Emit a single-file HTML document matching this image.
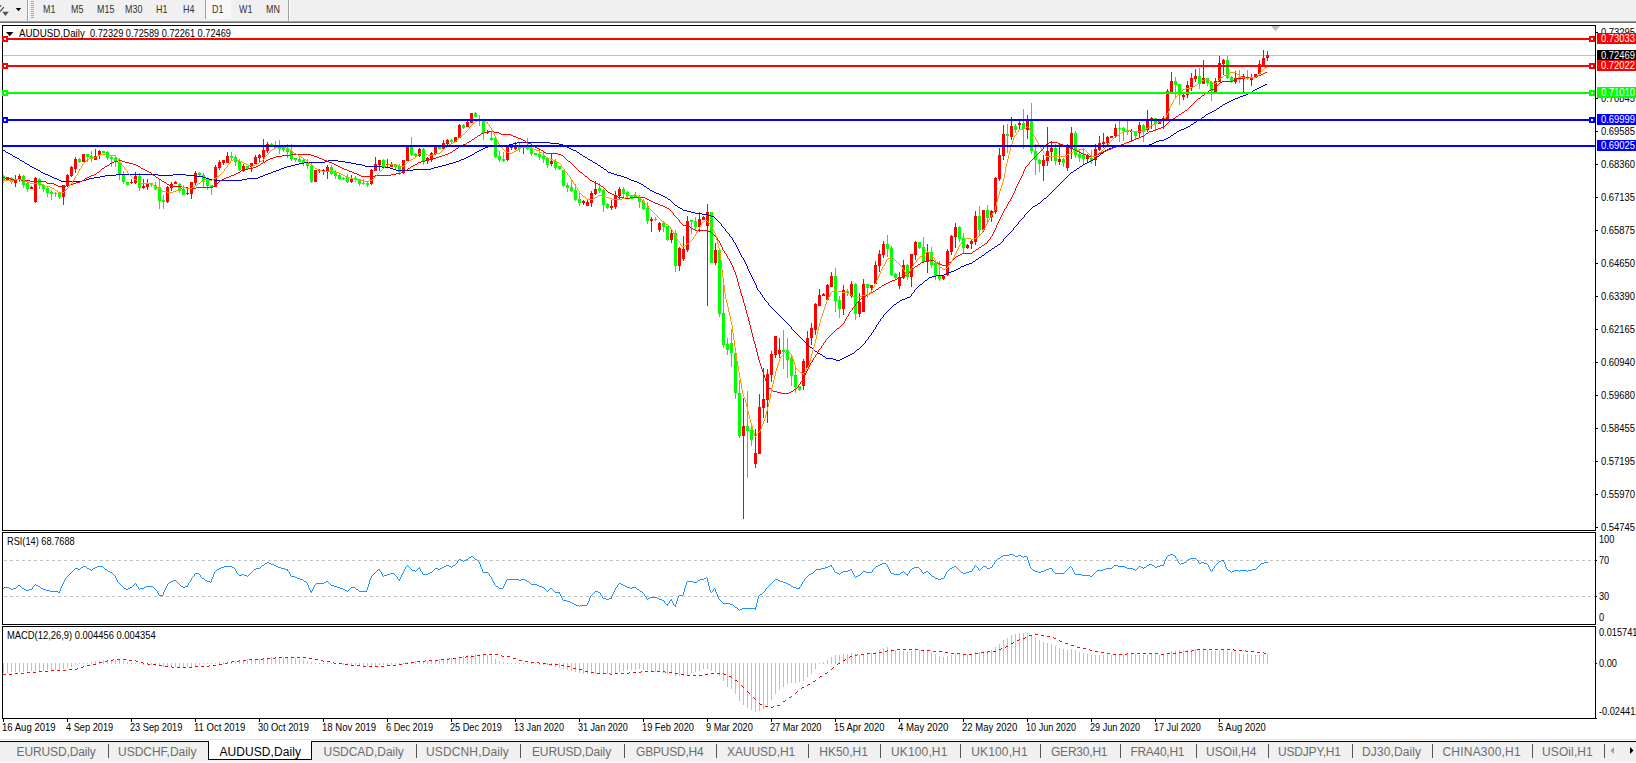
<!DOCTYPE html><html><head><meta charset="utf-8"><title>AUDUSD,Daily</title><style>
html,body{margin:0;padding:0;background:#fff;}
body{width:1636px;height:763px;overflow:hidden;position:relative;font-family:"Liberation Sans", sans-serif;}
.t{position:absolute;white-space:nowrap;line-height:1;color:#000;}
.ax{font-size:10.4px;line-height:11px;transform:scaleX(0.9074);transform-origin:0 0;}
.lbl{position:absolute;left:1597px;width:39px;height:11px;color:#fff;font-size:10.4px;white-space:nowrap;overflow:hidden;}
.lbl span{position:absolute;left:4px;top:.1px;line-height:11px;transform:scaleX(0.9074);transform-origin:0 0;}
.tab{position:absolute;top:745px;font-size:12px;line-height:14px;color:#6d6d6d;white-space:nowrap;letter-spacing:-0.1px;}
.sep{position:absolute;top:744px;width:1px;height:14px;background:#555;}
.tb{position:absolute;top:4.1px;font-size:10.4px;line-height:11px;color:#333;white-space:nowrap;transform:scaleX(0.8575);transform-origin:0 0;}
</style></head><body><div style="position:absolute;left:0;top:0;width:1636px;height:21px;background:#f0f0f0"></div><div style="position:absolute;left:0;top:21px;width:1636px;height:1px;background:#a0a0a0"></div><div style="position:absolute;left:0;top:22px;width:1636px;height:1px;background:#696969"></div><div style="position:absolute;left:27px;top:0;width:1px;height:21px;background:#a0a0a0"></div><div style="position:absolute;left:28px;top:0;width:1px;height:21px;background:#fff"></div><div style="position:absolute;left:205px;top:0;width:1px;height:19px;background:#a0a0a0"></div><div style="position:absolute;left:288px;top:0;width:1px;height:21px;background:#a0a0a0"></div><div style="position:absolute;left:289px;top:0;width:1px;height:21px;background:#fff"></div><div style="position:absolute;left:206px;top:0;width:25px;height:19px;background:#f8f8f8"></div><div style="position:absolute;left:31px;top:1px;width:3px;height:1px;background:#a8a8a8"></div><div style="position:absolute;left:31px;top:3px;width:3px;height:1px;background:#a8a8a8"></div><div style="position:absolute;left:31px;top:5px;width:3px;height:1px;background:#a8a8a8"></div><div style="position:absolute;left:31px;top:7px;width:3px;height:1px;background:#a8a8a8"></div><div style="position:absolute;left:31px;top:9px;width:3px;height:1px;background:#a8a8a8"></div><div style="position:absolute;left:31px;top:11px;width:3px;height:1px;background:#a8a8a8"></div><div style="position:absolute;left:31px;top:13px;width:3px;height:1px;background:#a8a8a8"></div><div style="position:absolute;left:31px;top:15px;width:3px;height:1px;background:#a8a8a8"></div><div style="position:absolute;left:31px;top:17px;width:3px;height:1px;background:#a8a8a8"></div><svg style="position:absolute;left:0;top:0" width="27" height="21" viewBox="0 0 27 21"><path d="M0 5l2 1-2 .7z" fill="#333"/><path d="M3.8 7.2L0 11.6" stroke="#444" stroke-width="1.2" fill="none"/><path d="M2.2 11.8h6.6L5.5 16z" fill="#555"/><path d="M15.8 8h5.4l-2.7 3.2z" fill="#000"/></svg><div class="tb" style="left:42.5px">M1</div><div class="tb" style="left:70.5px">M5</div><div class="tb" style="left:96.5px">M15</div><div class="tb" style="left:124.5px">M30</div><div class="tb" style="left:155.5px">H1</div><div class="tb" style="left:182.5px">H4</div><div class="tb" style="left:211.5px">D1</div><div class="tb" style="left:239px">W1</div><div class="tb" style="left:265.5px">MN</div><svg width="1636" height="763" viewBox="0 0 1636 763" style="position:absolute;left:0;top:0" shape-rendering="crispEdges"><line x1="4" y1="560.5" x2="1595" y2="560.5" stroke="#c0c0c0" stroke-width="1" stroke-dasharray="3,3"/><line x1="4" y1="596.5" x2="1595" y2="596.5" stroke="#c0c0c0" stroke-width="1" stroke-dasharray="3,3"/><rect x="3" y="55" width="1592" height="1" fill="#c0c0c0"/><path d="M7.5 177V180M15.5 175V187M19.5 174V182M31.5 186V189M35.5 177V203M63.5 185V205M67.5 174V187M71.5 166V177M75.5 157V173M83.5 154V162M95.5 149V160M99.5 150V159M131.5 179V184M135.5 172V184M143.5 179V189M147.5 179V190M167.5 186V203M171.5 182V191M175.5 181V184M187.5 187V195M191.5 182V199M195.5 171V186M215.5 165V187M219.5 160V170M223.5 160V165M227.5 152V163M243.5 164V172M251.5 163V172M255.5 155V165M259.5 154V162M263.5 139V162M267.5 142V153M315.5 170V182M319.5 169V173M323.5 169V175M327.5 165V179M351.5 175V183M371.5 169V185M375.5 157V171M379.5 160V171M387.5 159V168M391.5 162V167M403.5 160V174M407.5 147V161M419.5 148V157M427.5 157V164M431.5 152V162M435.5 147V155M443.5 140V150M447.5 139V145M455.5 137V142M459.5 124V138M467.5 121V127M471.5 113V123M487.5 130V134M507.5 147V161M511.5 146V150M515.5 142V150M523.5 145V154M551.5 154V166M583.5 200V205M587.5 200V206M591.5 191V207M595.5 181V195M611.5 200V210M615.5 191V209M619.5 187V199M651.5 217V232M659.5 222V232M671.5 230V243M679.5 247V271M683.5 236V261M687.5 216V252M699.5 212V232M703.5 216V220M707.5 204V306M715.5 243V265M743.5 398V519M755.5 429V468M759.5 394V454M763.5 368V418M767.5 369V423M771.5 351V382M775.5 336V358M779.5 338V358M803.5 359V390M807.5 331V368M811.5 323V345M815.5 303V335M819.5 289V306M823.5 293V296M827.5 284V300M831.5 272V287M843.5 285V315M851.5 281V298M859.5 293V317M863.5 279V312M871.5 285V290M875.5 261V284M879.5 250V272M883.5 241V258M899.5 272V289M903.5 260V279M911.5 254V287M915.5 241V260M927.5 244V273M943.5 276V280M947.5 249V276M951.5 235V255M955.5 223V248M967.5 244V249M971.5 240V249M975.5 211V245M983.5 210V232M991.5 210V222M995.5 177V214M999.5 148V181M1003.5 125V160M1011.5 117V140M1019.5 121V129M1027.5 115V139M1043.5 155V181M1047.5 127V166M1051.5 141V161M1059.5 144V165M1067.5 144V171M1071.5 127V159M1087.5 154V162M1095.5 144V166M1099.5 136V151M1103.5 133V148M1107.5 136V145M1111.5 136V138M1115.5 124V137M1131.5 129V142M1139.5 122V137M1147.5 110V132M1151.5 117V129M1159.5 120V124M1163.5 116V129M1167.5 89V119M1171.5 72V92M1183.5 94V100M1187.5 81V98M1191.5 73V91M1195.5 69V82M1203.5 60V84M1215.5 78V92M1219.5 56V82M1223.5 59V75M1235.5 71V84M1243.5 74V92M1251.5 74V86M1255.5 74V78M1259.5 60V74M1263.5 50V66M1267.5 51V61" stroke="#ff0000" stroke-width="1" fill="none"/><path d="M3.5 175V183M11.5 177V184M23.5 175V188M27.5 182V192M39.5 178V189M43.5 184V192M47.5 187V197M51.5 190V200M55.5 192V197M59.5 192V199M79.5 158V163M87.5 154V162M91.5 151V162M103.5 151V153M107.5 151V160M111.5 156V167M115.5 155V167M119.5 158V180M123.5 171V184M127.5 182V185M139.5 173V191M151.5 183V187M155.5 182V190M159.5 180V209M163.5 195V209M179.5 183V193M183.5 185V195M199.5 172V176M203.5 173V187M207.5 177V190M211.5 185V195M231.5 152V160M235.5 155V166M239.5 159V171M247.5 166V169M271.5 143V146M275.5 141V148M279.5 140V154M283.5 148V152M287.5 144V158M291.5 144V161M295.5 158V162M299.5 157V162M303.5 159V166M307.5 159V169M311.5 163V183M331.5 165V175M335.5 170V179M339.5 173V180M343.5 177V180M347.5 174V183M355.5 176V182M359.5 179V186M363.5 179V185M367.5 182V187M383.5 159V169M395.5 164V169M399.5 164V175M411.5 137V156M415.5 153V158M423.5 148V165M439.5 147V149M451.5 139V143M463.5 124V129M475.5 112V117M479.5 115V126M483.5 121V140M491.5 132V141M495.5 138V158M499.5 151V162M503.5 152V162M519.5 143V152M527.5 138V150M531.5 144V156M535.5 153V155M539.5 150V160M543.5 152V163M547.5 158V168M555.5 159V170M559.5 166V170M563.5 170V187M567.5 183V192M571.5 180V192M575.5 184V201M579.5 193V206M599.5 183V193M603.5 189V212M607.5 203V209M623.5 187V199M627.5 191V199M631.5 195V199M635.5 192V197M639.5 195V208M643.5 199V210M647.5 202V224M655.5 217V221M663.5 222V232M667.5 226V241M675.5 230V272M691.5 220V234M695.5 217V230M711.5 212V263M719.5 250V317M723.5 284V348M727.5 338V355M731.5 329V367M735.5 352V399M739.5 380V438M747.5 391V478M751.5 426V446M783.5 330V369M787.5 338V378M791.5 355V386M795.5 367V393M799.5 386V391M835.5 268V312M839.5 296V318M847.5 289V296M855.5 283V320M867.5 284V298M887.5 235V257M891.5 246V276M895.5 273V279M907.5 264V280M919.5 242V249M923.5 237V262M931.5 247V268M935.5 262V280M939.5 261V281M959.5 226V242M963.5 233V253M979.5 206V235M987.5 205V223M1007.5 124V153M1015.5 124V133M1023.5 109V149M1031.5 103V154M1035.5 144V175M1039.5 159V172M1055.5 144V165M1063.5 158V167M1075.5 131V158M1079.5 149V162M1083.5 148V164M1091.5 150V164M1119.5 121V142M1123.5 127V141M1127.5 121V135M1135.5 131V139M1143.5 124V142M1155.5 118V130M1175.5 77V97M1179.5 84V105M1199.5 68V89M1207.5 78V86M1211.5 81V101M1227.5 56V79M1231.5 76V83M1239.5 70V83M1247.5 70V80" stroke="#00ff00" stroke-width="1" fill="none"/><path d="M6 177h3v3h-3zM14 180h3v3h-3zM18 176h3v4h-3zM30 187h3v2h-3zM34 178h3v24h-3zM62 185h3v12h-3zM66 175h3v11h-3zM70 167h3v9h-3zM74 159h3v10h-3zM82 154h3v8h-3zM94 156h3v4h-3zM98 151h3v4h-3zM130 182h3v1h-3zM134 176h3v7h-3zM142 186h3v2h-3zM146 183h3v4h-3zM166 187h3v15h-3zM170 184h3v4h-3zM174 182h3v2h-3zM186 193h3v1h-3zM190 182h3v12h-3zM194 173h3v10h-3zM214 167h3v20h-3zM218 162h3v6h-3zM222 160h3v3h-3zM226 156h3v7h-3zM242 166h3v5h-3zM250 163h3v4h-3zM254 157h3v7h-3zM258 155h3v3h-3zM262 150h3v7h-3zM266 144h3v7h-3zM314 170h3v12h-3zM318 170h3v1h-3zM322 170h3v2h-3zM326 167h3v5h-3zM350 178h3v4h-3zM370 170h3v14h-3zM374 164h3v7h-3zM378 160h3v5h-3zM386 164h3v1h-3zM390 164h3v3h-3zM402 160h3v13h-3zM406 147h3v14h-3zM418 149h3v7h-3zM426 158h3v3h-3zM430 153h3v7h-3zM434 147h3v7h-3zM442 143h3v6h-3zM446 140h3v4h-3zM454 137h3v5h-3zM458 125h3v13h-3zM466 122h3v5h-3zM470 113h3v10h-3zM486 132h3v1h-3zM506 147h3v13h-3zM510 146h3v2h-3zM514 146h3v3h-3zM522 145h3v2h-3zM550 161h3v3h-3zM582 201h3v2h-3zM586 202h3v4h-3zM590 193h3v10h-3zM594 189h3v5h-3zM610 206h3v2h-3zM614 195h3v12h-3zM618 189h3v7h-3zM650 219h3v2h-3zM658 223h3v7h-3zM670 233h3v7h-3zM678 248h3v18h-3zM682 249h3v10h-3zM686 221h3v29h-3zM698 219h3v8h-3zM702 217h3v3h-3zM706 212h3v14h-3zM714 250h3v13h-3zM742 426h3v10h-3zM754 453h3v11h-3zM758 407h3v47h-3zM762 399h3v9h-3zM766 374h3v26h-3zM770 354h3v21h-3zM774 336h3v19h-3zM778 350h3v4h-3zM802 361h3v25h-3zM806 338h3v30h-3zM810 328h3v10h-3zM814 304h3v26h-3zM818 295h3v11h-3zM822 294h3v2h-3zM826 285h3v15h-3zM830 276h3v11h-3zM842 290h3v19h-3zM850 284h3v12h-3zM858 302h3v12h-3zM862 284h3v28h-3zM870 285h3v3h-3zM874 265h3v19h-3zM878 254h3v12h-3zM882 244h3v11h-3zM898 277h3v9h-3zM902 265h3v13h-3zM910 254h3v23h-3zM914 242h3v13h-3zM926 252h3v10h-3zM942 276h3v3h-3zM946 251h3v24h-3zM950 236h3v16h-3zM954 227h3v10h-3zM966 245h3v3h-3zM970 241h3v3h-3zM974 216h3v26h-3zM982 210h3v20h-3zM990 211h3v6h-3zM994 178h3v34h-3zM998 155h3v24h-3zM1002 134h3v22h-3zM1010 126h3v11h-3zM1018 123h3v2h-3zM1026 121h3v9h-3zM1042 160h3v6h-3zM1046 151h3v10h-3zM1050 148h3v4h-3zM1058 159h3v3h-3zM1066 147h3v21h-3zM1070 133h3v16h-3zM1086 155h3v4h-3zM1094 149h3v11h-3zM1098 143h3v7h-3zM1102 142h3v2h-3zM1106 137h3v6h-3zM1110 136h3v2h-3zM1114 128h3v8h-3zM1130 131h3v1h-3zM1138 125h3v8h-3zM1146 120h3v10h-3zM1150 118h3v2h-3zM1158 120h3v4h-3zM1162 118h3v3h-3zM1166 91h3v28h-3zM1170 81h3v11h-3zM1182 95h3v2h-3zM1186 85h3v10h-3zM1190 78h3v9h-3zM1194 76h3v3h-3zM1202 78h3v6h-3zM1214 81h3v11h-3zM1218 63h3v19h-3zM1222 60h3v4h-3zM1234 78h3v4h-3zM1242 76h3v3h-3zM1250 77h3v3h-3zM1254 74h3v4h-3zM1258 64h3v10h-3zM1262 58h3v7h-3zM1266 55h3v3h-3z" fill="#ff0000"/><path d="M2 176h3v5h-3zM10 178h3v4h-3zM22 176h3v9h-3zM26 183h3v6h-3zM38 179h3v6h-3zM42 185h3v4h-3zM46 188h3v5h-3zM50 192h3v2h-3zM54 193h3v1h-3zM58 193h3v4h-3zM78 159h3v3h-3zM86 154h3v3h-3zM90 156h3v2h-3zM102 151h3v2h-3zM106 152h3v6h-3zM110 157h3v2h-3zM114 158h3v3h-3zM118 162h3v13h-3zM122 174h3v8h-3zM126 182h3v3h-3zM138 176h3v12h-3zM150 183h3v2h-3zM154 185h3v4h-3zM158 187h3v14h-3zM162 200h3v2h-3zM178 184h3v7h-3zM182 189h3v6h-3zM198 173h3v2h-3zM202 175h3v7h-3zM206 180h3v6h-3zM210 185h3v2h-3zM230 156h3v2h-3zM234 157h3v5h-3zM238 161h3v9h-3zM246 166h3v3h-3zM270 144h3v2h-3zM274 146h3v2h-3zM278 148h3v1h-3zM282 148h3v2h-3zM286 148h3v4h-3zM290 151h3v8h-3zM294 158h3v2h-3zM298 159h3v3h-3zM302 160h3v3h-3zM306 162h3v4h-3zM310 166h3v16h-3zM330 167h3v7h-3zM334 172h3v4h-3zM338 175h3v4h-3zM342 178h3v1h-3zM346 177h3v5h-3zM354 178h3v2h-3zM358 179h3v5h-3zM362 183h3v1h-3zM366 183h3v2h-3zM382 160h3v7h-3zM394 164h3v3h-3zM398 166h3v6h-3zM410 147h3v8h-3zM414 154h3v2h-3zM422 149h3v12h-3zM438 147h3v2h-3zM450 140h3v2h-3zM462 125h3v3h-3zM474 113h3v4h-3zM478 119h3v1h-3zM482 121h3v12h-3zM490 138h3v2h-3zM494 138h3v19h-3zM498 156h3v4h-3zM502 159h3v2h-3zM518 147h3v2h-3zM526 147h3v2h-3zM530 148h3v6h-3zM534 153h3v2h-3zM538 154h3v3h-3zM542 156h3v3h-3zM546 158h3v7h-3zM554 161h3v7h-3zM558 166h3v3h-3zM562 170h3v16h-3zM566 185h3v3h-3zM570 187h3v4h-3zM574 190h3v10h-3zM578 199h3v4h-3zM598 188h3v3h-3zM602 190h3v15h-3zM606 204h3v4h-3zM622 189h3v5h-3zM626 192h3v4h-3zM630 196h3v3h-3zM634 195h3v2h-3zM638 197h3v5h-3zM642 201h3v8h-3zM646 208h3v13h-3zM654 219h3v1h-3zM662 223h3v4h-3zM666 226h3v14h-3zM674 233h3v33h-3zM690 220h3v2h-3zM694 221h3v6h-3zM710 212h3v51h-3zM718 250h3v64h-3zM722 313h3v32h-3zM726 344h3v6h-3zM730 343h3v10h-3zM734 353h3v40h-3zM738 393h3v43h-3zM746 426h3v5h-3zM750 430h3v10h-3zM782 350h3v2h-3zM786 350h3v10h-3zM790 358h3v18h-3zM794 375h3v12h-3zM798 386h3v4h-3zM834 276h3v25h-3zM838 300h3v9h-3zM846 291h3v2h-3zM854 284h3v30h-3zM866 284h3v4h-3zM886 244h3v5h-3zM890 248h3v27h-3zM894 274h3v4h-3zM906 265h3v12h-3zM918 242h3v6h-3zM922 247h3v15h-3zM930 252h3v13h-3zM934 263h3v13h-3zM938 276h3v3h-3zM958 227h3v12h-3zM962 238h3v10h-3zM978 216h3v14h-3zM986 210h3v8h-3zM1006 134h3v2h-3zM1014 126h3v4h-3zM1022 123h3v6h-3zM1030 121h3v30h-3zM1034 151h3v9h-3zM1038 160h3v4h-3zM1054 148h3v13h-3zM1062 159h3v4h-3zM1074 133h3v22h-3zM1078 154h3v4h-3zM1082 155h3v4h-3zM1090 158h3v3h-3zM1118 128h3v1h-3zM1122 128h3v3h-3zM1126 130h3v2h-3zM1134 132h3v4h-3zM1142 125h3v7h-3zM1154 118h3v6h-3zM1174 81h3v4h-3zM1178 84h3v11h-3zM1198 76h3v8h-3zM1206 78h3v5h-3zM1210 82h3v9h-3zM1226 60h3v18h-3zM1230 77h3v4h-3zM1238 77h3v3h-3zM1246 77h3v1h-3z" fill="#00ff00"/><path d="M3.5 150V151M4.5 150V151M5.5 151V152M6.5 152V153M7.5 152V153M8.5 153V154M9.5 153V154M10.5 154V155M11.5 154V155M12.5 155V156M13.5 156V157M14.5 156V157M15.5 157V158M16.5 157V158M17.5 158V159M18.5 158V159M19.5 159V160M20.5 160V161M21.5 160V161M22.5 161V162M23.5 161V162M24.5 162V163M25.5 163V164M26.5 163V164M27.5 164V165M28.5 164V165M29.5 165V166M30.5 166V167M31.5 166V167M32.5 167V168M33.5 167V168M34.5 168V169M35.5 168V169M36.5 169V170M37.5 169V170M38.5 170V171M39.5 170V171M40.5 171V172M41.5 172V173M42.5 172V173M43.5 173V174M44.5 173V174M45.5 174V175M46.5 174V175M47.5 174V175M48.5 175V176M49.5 175V176M50.5 176V177M51.5 176V177M52.5 177V178M53.5 177V178M54.5 178V179M55.5 178V179M56.5 178V179M57.5 179V180M58.5 179V180M59.5 180V181M60.5 180V181M61.5 181V182M62.5 181V182M63.5 181V182M64.5 181V182M65.5 181V182M66.5 181V182M67.5 181V182M68.5 181V182M69.5 181V182M70.5 181V182M71.5 181V182M72.5 181V182M73.5 181V182M74.5 181V182M75.5 181V182M76.5 181V182M77.5 181V182M78.5 181V182M79.5 181V182M80.5 181V182M81.5 181V182M82.5 180V181M83.5 180V181M84.5 180V181M85.5 180V181M86.5 179V180M87.5 179V180M88.5 179V180M89.5 178V179M90.5 178V179M91.5 178V179M92.5 178V179M93.5 178V179M94.5 177V178M95.5 177V178M96.5 177V178M97.5 177V178M98.5 177V178M99.5 177V178M100.5 176V177M101.5 176V177M102.5 176V177M103.5 176V177M104.5 176V177M105.5 175V176M106.5 175V176M107.5 175V176M108.5 175V176M109.5 175V176M110.5 175V176M111.5 175V176M112.5 175V176M113.5 175V176M114.5 175V176M115.5 175V176M116.5 174V175M117.5 174V175M118.5 174V175M119.5 174V175M120.5 174V175M121.5 174V175M122.5 174V175M123.5 174V175M124.5 174V175M125.5 174V175M126.5 174V175M127.5 174V175M128.5 174V175M129.5 174V175M130.5 174V175M131.5 174V175M132.5 174V175M133.5 174V175M134.5 174V175M135.5 174V175M136.5 174V175M137.5 174V175M138.5 174V175M139.5 174V175M140.5 174V175M141.5 174V175M142.5 174V175M143.5 174V175M144.5 174V175M145.5 174V175M146.5 174V175M147.5 174V175M148.5 174V175M149.5 174V175M150.5 174V175M151.5 174V175M152.5 174V175M153.5 174V175M154.5 174V175M155.5 174V175M156.5 174V175M157.5 174V175M158.5 175V176M159.5 175V176M160.5 175V176M161.5 175V176M162.5 175V176M163.5 175V176M164.5 175V176M165.5 175V176M166.5 175V176M167.5 175V176M168.5 175V176M169.5 175V176M170.5 175V176M171.5 175V176M172.5 175V176M173.5 174V175M174.5 174V175M175.5 174V175M176.5 174V175M177.5 174V175M178.5 174V175M179.5 174V175M180.5 174V175M181.5 174V175M182.5 174V175M183.5 174V175M184.5 174V175M185.5 174V175M186.5 175V176M187.5 175V176M188.5 175V176M189.5 175V176M190.5 175V176M191.5 175V176M192.5 175V176M193.5 175V176M194.5 175V176M195.5 176V177M196.5 176V177M197.5 176V177M198.5 176V177M199.5 176V177M200.5 176V177M201.5 176V177M202.5 176V177M203.5 177V178M204.5 177V178M205.5 177V178M206.5 178V179M207.5 178V179M208.5 178V179M209.5 179V180M210.5 179V180M211.5 179V180M212.5 179V180M213.5 179V180M214.5 180V181M215.5 180V181M216.5 180V181M217.5 180V181M218.5 180V181M219.5 180V181M220.5 180V181M221.5 180V181M222.5 180V181M223.5 180V181M224.5 180V181M225.5 180V181M226.5 180V181M227.5 180V181M228.5 180V181M229.5 180V181M230.5 180V181M231.5 180V181M232.5 180V181M233.5 180V181M234.5 180V181M235.5 180V181M236.5 180V181M237.5 180V181M238.5 180V181M239.5 180V181M240.5 180V181M241.5 180V181M242.5 179V180M243.5 179V180M244.5 179V180M245.5 179V180M246.5 179V180M247.5 178V179M248.5 178V179M249.5 178V179M250.5 178V179M251.5 178V179M252.5 178V179M253.5 178V179M254.5 178V179M255.5 178V179M256.5 178V179M257.5 178V179M258.5 177V178M259.5 177V178M260.5 176V177M261.5 176V177M262.5 176V177M263.5 175V176M264.5 175V176M265.5 174V175M266.5 174V175M267.5 174V175M268.5 173V174M269.5 173V174M270.5 173V174M271.5 172V173M272.5 172V173M273.5 171V172M274.5 171V172M275.5 171V172M276.5 170V171M277.5 170V171M278.5 170V171M279.5 169V170M280.5 169V170M281.5 168V169M282.5 168V169M283.5 168V169M284.5 167V168M285.5 167V168M286.5 167V168M287.5 166V167M288.5 166V167M289.5 166V167M290.5 166V167M291.5 165V166M292.5 165V166M293.5 165V166M294.5 165V166M295.5 164V165M296.5 164V165M297.5 164V165M298.5 164V165M299.5 163V164M300.5 163V164M301.5 163V164M302.5 163V164M303.5 163V164M304.5 162V163M305.5 162V163M306.5 162V163M307.5 162V163M308.5 162V163M309.5 162V163M310.5 162V163M311.5 162V163M312.5 162V163M313.5 162V163M314.5 162V163M315.5 162V163M316.5 162V163M317.5 162V163M318.5 162V163M319.5 162V163M320.5 162V163M321.5 162V163M322.5 162V163M323.5 162V163M324.5 162V163M325.5 161V162M326.5 161V162M327.5 161V162M328.5 160V161M329.5 160V161M330.5 160V161M331.5 160V161M332.5 160V161M333.5 160V161M334.5 160V161M335.5 160V161M336.5 160V161M337.5 160V161M338.5 161V162M339.5 161V162M340.5 161V162M341.5 161V162M342.5 161V162M343.5 161V162M344.5 161V162M345.5 162V163M346.5 162V163M347.5 162V163M348.5 162V163M349.5 162V163M350.5 162V163M351.5 163V164M352.5 163V164M353.5 163V164M354.5 163V164M355.5 163V164M356.5 164V165M357.5 164V165M358.5 164V165M359.5 164V165M360.5 164V165M361.5 164V165M362.5 165V166M363.5 165V166M364.5 165V166M365.5 166V167M366.5 166V167M367.5 166V167M368.5 166V167M369.5 166V167M370.5 166V167M371.5 166V167M372.5 166V167M373.5 166V167M374.5 166V167M375.5 166V167M376.5 166V167M377.5 166V167M378.5 166V167M379.5 166V167M380.5 166V167M381.5 166V167M382.5 167V168M383.5 167V168M384.5 167V168M385.5 167V168M386.5 167V168M387.5 167V168M388.5 167V168M389.5 167V168M390.5 168V169M391.5 168V169M392.5 168V169M393.5 169V170M394.5 169V170M395.5 169V170M396.5 170V171M397.5 170V171M398.5 170V171M399.5 170V171M400.5 170V171M401.5 170V171M402.5 170V171M403.5 170V171M404.5 170V171M405.5 170V171M406.5 170V171M407.5 170V171M408.5 170V171M409.5 170V171M410.5 170V171M411.5 170V171M412.5 170V171M413.5 169V170M414.5 169V170M415.5 169V170M416.5 169V170M417.5 169V170M418.5 169V170M419.5 169V170M420.5 169V170M421.5 169V170M422.5 169V170M423.5 169V170M424.5 169V170M425.5 169V170M426.5 169V170M427.5 169V170M428.5 169V170M429.5 169V170M430.5 169V170M431.5 168V169M432.5 168V169M433.5 168V169M434.5 167V168M435.5 167V168M436.5 167V168M437.5 167V168M438.5 166V167M439.5 166V167M440.5 166V167M441.5 166V167M442.5 165V166M443.5 165V166M444.5 165V166M445.5 165V166M446.5 164V165M447.5 164V165M448.5 164V165M449.5 163V164M450.5 163V164M451.5 163V164M452.5 163V164M453.5 162V163M454.5 162V163M455.5 162V163M456.5 161V162M457.5 161V162M458.5 161V162M459.5 160V161M460.5 160V161M461.5 159V160M462.5 159V160M463.5 159V160M464.5 158V159M465.5 158V159M466.5 157V158M467.5 157V158M468.5 156V157M469.5 156V157M470.5 155V156M471.5 155V156M472.5 154V155M473.5 154V155M474.5 153V154M475.5 152V153M476.5 152V153M477.5 151V152M478.5 151V152M479.5 150V151M480.5 150V151M481.5 149V150M482.5 149V150M483.5 148V149M484.5 148V149M485.5 147V148M486.5 147V148M487.5 147V148M488.5 146V147M489.5 146V147M490.5 146V147M491.5 146V147M492.5 146V147M493.5 146V147M494.5 146V147M495.5 146V147M496.5 146V147M497.5 146V147M498.5 146V147M499.5 146V147M500.5 146V147M501.5 146V147M502.5 145V146M503.5 145V146M504.5 145V146M505.5 145V146M506.5 145V146M507.5 145V146M508.5 145V146M509.5 144V145M510.5 144V145M511.5 144V145M512.5 144V145M513.5 143V144M514.5 143V144M515.5 143V144M516.5 143V144M517.5 142V143M518.5 142V143M519.5 142V143M520.5 142V143M521.5 142V143M522.5 142V143M523.5 142V143M524.5 142V143M525.5 142V143M526.5 142V143M527.5 142V143M528.5 142V143M529.5 142V143M530.5 142V143M531.5 142V143M532.5 142V143M533.5 142V143M534.5 142V143M535.5 142V143M536.5 142V143M537.5 142V143M538.5 142V143M539.5 142V143M540.5 142V143M541.5 142V143M542.5 142V143M543.5 142V143M544.5 142V143M545.5 142V143M546.5 142V143M547.5 142V143M548.5 142V143M549.5 142V143M550.5 143V144M551.5 143V144M552.5 143V144M553.5 143V144M554.5 143V144M555.5 143V144M556.5 143V144M557.5 143V144M558.5 143V144M559.5 144V145M560.5 144V145M561.5 144V145M562.5 144V145M563.5 145V146M564.5 145V146M565.5 146V147M566.5 146V147M567.5 147V148M568.5 147V148M569.5 148V149M570.5 148V149M571.5 149V150M572.5 149V150M573.5 150V151M574.5 150V151M575.5 150V151M576.5 151V152M577.5 152V153M578.5 152V153M579.5 153V154M580.5 154V155M581.5 154V155M582.5 155V156M583.5 156V157M584.5 156V157M585.5 157V158M586.5 157V158M587.5 158V159M588.5 159V160M589.5 159V160M590.5 160V161M591.5 160V161M592.5 161V162M593.5 162V163M594.5 162V163M595.5 163V164M596.5 163V164M597.5 164V165M598.5 165V166M599.5 165V166M600.5 166V167M601.5 167V168M602.5 167V168M603.5 168V169M604.5 169V170M605.5 169V170M606.5 170V171M607.5 171V172M608.5 172V173M609.5 172V173M610.5 172V173M611.5 173V174M612.5 173V174M613.5 173V174M614.5 174V175M615.5 174V175M616.5 174V175M617.5 175V176M618.5 175V176M619.5 175V176M620.5 175V176M621.5 176V177M622.5 176V177M623.5 176V177M624.5 177V178M625.5 177V178M626.5 177V178M627.5 178V179M628.5 178V179M629.5 179V180M630.5 179V180M631.5 180V181M632.5 180V181M633.5 180V181M634.5 181V182M635.5 181V182M636.5 181V182M637.5 182V183M638.5 182V183M639.5 183V184M640.5 183V184M641.5 184V185M642.5 184V185M643.5 185V186M644.5 186V187M645.5 186V187M646.5 187V188M647.5 188V189M648.5 188V189M649.5 189V190M650.5 190V191M651.5 190V191M652.5 191V192M653.5 191V192M654.5 192V193M655.5 192V193M656.5 193V194M657.5 193V194M658.5 193V194M659.5 194V195M660.5 194V195M661.5 195V196M662.5 195V196M663.5 196V197M664.5 196V197M665.5 197V198M666.5 197V198M667.5 198V199M668.5 199V200M669.5 199V200M670.5 200V201M671.5 201V202M672.5 202V203M673.5 203V204M674.5 204V205M675.5 205V206M676.5 205V206M677.5 206V207M678.5 207V208M679.5 207V208M680.5 208V209M681.5 208V209M682.5 209V210M683.5 210V211M684.5 210V211M685.5 210V211M686.5 210V211M687.5 211V212M688.5 211V212M689.5 211V212M690.5 211V212M691.5 212V213M692.5 212V213M693.5 212V213M694.5 212V213M695.5 213V214M696.5 213V214M697.5 213V214M698.5 213V214M699.5 213V214M700.5 213V214M701.5 213V214M702.5 214V215M703.5 214V215M704.5 214V215M705.5 214V215M706.5 214V215M707.5 214V215M708.5 215V216M709.5 215V216M710.5 215V216M711.5 216V217M712.5 216V217M713.5 216V217M714.5 217V218M715.5 218V219M716.5 219V220M717.5 220V221M718.5 221V222M719.5 222V223M720.5 223V224M721.5 224V226M722.5 226V227M723.5 227V228M724.5 228V229M725.5 229V231M726.5 231V232M727.5 232V233M728.5 233V234M729.5 234V236M730.5 236V237M731.5 237V238M732.5 238V240M733.5 240V242M734.5 242V243M735.5 243V245M736.5 245V247M737.5 247V249M738.5 249V251M739.5 251V253M740.5 253V255M741.5 255V257M742.5 257V258M743.5 258V260M744.5 260V262M745.5 262V264M746.5 264V266M747.5 266V269M748.5 269V271M749.5 271V273M750.5 273V275M751.5 275V277M752.5 277V279M753.5 279V281M754.5 281V283M755.5 283V285M756.5 285V288M757.5 288V290M758.5 290V291M759.5 291V292M760.5 292V294M761.5 294V295M762.5 295V297M763.5 297V298M764.5 298V300M765.5 300V301M766.5 301V302M767.5 302V303M768.5 303V305M769.5 305V306M770.5 306V307M771.5 307V308M772.5 308V309M773.5 309V310M774.5 310V311M775.5 311V312M776.5 312V313M777.5 313V314M778.5 314V315M779.5 315V316M780.5 316V317M781.5 317V318M782.5 318V319M783.5 319V320M784.5 320V321M785.5 321V322M786.5 322V323M787.5 323V324M788.5 324V325M789.5 325V326M790.5 326V327M791.5 327V329M792.5 329V330M793.5 330V331M794.5 331V332M795.5 332V333M796.5 333V334M797.5 334V335M798.5 335V336M799.5 336V337M800.5 337V338M801.5 338V339M802.5 339V340M803.5 340V341M804.5 341V342M805.5 342V343M806.5 343V344M807.5 344V345M808.5 345V346M809.5 346V347M810.5 347V348M811.5 347V348M812.5 348V349M813.5 349V350M814.5 350V351M815.5 351V352M816.5 351V352M817.5 352V353M818.5 353V354M819.5 353V354M820.5 354V355M821.5 354V355M822.5 355V356M823.5 356V357M824.5 356V357M825.5 357V358M826.5 358V359M827.5 358V359M828.5 358V359M829.5 358V359M830.5 358V359M831.5 358V359M832.5 358V359M833.5 359V360M834.5 359V360M835.5 359V360M836.5 360V361M837.5 360V361M838.5 360V361M839.5 360V361M840.5 359V360M841.5 359V360M842.5 358V359M843.5 358V359M844.5 357V358M845.5 357V358M846.5 356V357M847.5 356V357M848.5 355V356M849.5 355V356M850.5 354V355M851.5 354V355M852.5 353V354M853.5 353V354M854.5 352V353M855.5 351V352M856.5 350V351M857.5 349V350M858.5 349V350M859.5 348V349M860.5 347V348M861.5 346V347M862.5 345V346M863.5 344V345M864.5 343V344M865.5 341V343M866.5 340V341M867.5 339V340M868.5 337V339M869.5 336V337M870.5 335V336M871.5 333V335M872.5 332V333M873.5 330V332M874.5 329V330M875.5 327V329M876.5 325V327M877.5 324V325M878.5 322V324M879.5 321V322M880.5 319V321M881.5 318V319M882.5 317V318M883.5 315V317M884.5 314V315M885.5 313V314M886.5 312V313M887.5 311V312M888.5 310V311M889.5 309V310M890.5 308V309M891.5 307V308M892.5 306V307M893.5 305V306M894.5 304V305M895.5 304V305M896.5 303V304M897.5 302V303M898.5 302V303M899.5 301V302M900.5 300V301M901.5 300V301M902.5 299V300M903.5 299V300M904.5 299V300M905.5 298V299M906.5 298V299M907.5 297V298M908.5 297V298M909.5 297V298M910.5 296V297M911.5 294V296M912.5 293V294M913.5 292V293M914.5 290V292M915.5 289V290M916.5 288V289M917.5 287V288M918.5 286V287M919.5 285V286M920.5 284V285M921.5 284V285M922.5 283V284M923.5 282V283M924.5 281V282M925.5 280V281M926.5 280V281M927.5 279V280M928.5 278V279M929.5 277V278M930.5 277V278M931.5 277V278M932.5 276V277M933.5 276V277M934.5 276V277M935.5 276V277M936.5 275V276M937.5 275V276M938.5 275V276M939.5 275V276M940.5 275V276M941.5 275V276M942.5 275V276M943.5 275V276M944.5 274V275M945.5 274V275M946.5 273V274M947.5 273V274M948.5 272V273M949.5 272V273M950.5 272V273M951.5 271V272M952.5 271V272M953.5 271V272M954.5 270V271M955.5 270V271M956.5 269V270M957.5 269V270M958.5 268V269M959.5 268V269M960.5 267V268M961.5 266V267M962.5 266V267M963.5 266V267M964.5 265V266M965.5 265V266M966.5 264V265M967.5 264V265M968.5 264V265M969.5 263V264M970.5 263V264M971.5 263V264M972.5 262V263M973.5 261V262M974.5 261V262M975.5 260V261M976.5 259V260M977.5 259V260M978.5 258V259M979.5 257V258M980.5 257V258M981.5 256V257M982.5 255V256M983.5 255V256M984.5 254V255M985.5 253V254M986.5 252V253M987.5 252V253M988.5 251V252M989.5 250V251M990.5 250V251M991.5 249V250M992.5 248V249M993.5 248V249M994.5 247V248M995.5 246V247M996.5 246V247M997.5 245V246M998.5 244V245M999.5 244V245M1000.5 243V244M1001.5 242V243M1002.5 241V242M1003.5 239V241M1004.5 238V239M1005.5 237V238M1006.5 236V237M1007.5 235V236M1008.5 234V235M1009.5 233V234M1010.5 232V233M1011.5 231V232M1012.5 230V231M1013.5 228V230M1014.5 227V228M1015.5 226V227M1016.5 225V226M1017.5 224V225M1018.5 222V224M1019.5 221V222M1020.5 220V221M1021.5 219V220M1022.5 218V219M1023.5 217V218M1024.5 215V217M1025.5 214V215M1026.5 213V214M1027.5 212V213M1028.5 211V212M1029.5 210V211M1030.5 209V210M1031.5 208V209M1032.5 207V208M1033.5 206V207M1034.5 206V207M1035.5 205V206M1036.5 205V206M1037.5 204V205M1038.5 203V204M1039.5 203V204M1040.5 202V203M1041.5 201V202M1042.5 200V201M1043.5 199V200M1044.5 198V199M1045.5 198V199M1046.5 197V198M1047.5 196V197M1048.5 195V196M1049.5 194V195M1050.5 193V194M1051.5 192V193M1052.5 191V192M1053.5 190V191M1054.5 189V190M1055.5 188V189M1056.5 187V188M1057.5 186V187M1058.5 185V186M1059.5 184V185M1060.5 183V184M1061.5 182V183M1062.5 181V182M1063.5 180V181M1064.5 179V180M1065.5 178V179M1066.5 177V178M1067.5 176V177M1068.5 175V176M1069.5 174V175M1070.5 173V174M1071.5 172V173M1072.5 172V173M1073.5 171V172M1074.5 170V171M1075.5 170V171M1076.5 169V170M1077.5 168V169M1078.5 168V169M1079.5 167V168M1080.5 166V167M1081.5 166V167M1082.5 165V166M1083.5 164V165M1084.5 164V165M1085.5 163V164M1086.5 163V164M1087.5 162V163M1088.5 162V163M1089.5 161V162M1090.5 161V162M1091.5 160V161M1092.5 160V161M1093.5 159V160M1094.5 159V160M1095.5 158V159M1096.5 157V158M1097.5 156V157M1098.5 156V157M1099.5 155V156M1100.5 154V155M1101.5 153V154M1102.5 153V154M1103.5 152V153M1104.5 151V152M1105.5 150V151M1106.5 150V151M1107.5 149V150M1108.5 149V150M1109.5 148V149M1110.5 148V149M1111.5 148V149M1112.5 147V148M1113.5 147V148M1114.5 147V148M1115.5 146V147M1116.5 146V147M1117.5 146V147M1118.5 145V146M1119.5 145V146M1120.5 145V146M1121.5 145V146M1122.5 145V146M1123.5 145V146M1124.5 145V146M1125.5 145V146M1126.5 145V146M1127.5 145V146M1128.5 145V146M1129.5 145V146M1130.5 145V146M1131.5 145V146M1132.5 145V146M1133.5 145V146M1134.5 145V146M1135.5 145V146M1136.5 145V146M1137.5 145V146M1138.5 145V146M1139.5 145V146M1140.5 145V146M1141.5 145V146M1142.5 145V146M1143.5 145V146M1144.5 145V146M1145.5 145V146M1146.5 145V146M1147.5 145V146M1148.5 145V146M1149.5 144V145M1150.5 144V145M1151.5 144V145M1152.5 143V144M1153.5 143V144M1154.5 142V143M1155.5 142V143M1156.5 141V142M1157.5 141V142M1158.5 141V142M1159.5 140V141M1160.5 140V141M1161.5 140V141M1162.5 140V141M1163.5 140V141M1164.5 139V140M1165.5 139V140M1166.5 138V139M1167.5 138V139M1168.5 137V138M1169.5 137V138M1170.5 136V137M1171.5 135V136M1172.5 135V136M1173.5 134V135M1174.5 133V134M1175.5 133V134M1176.5 132V133M1177.5 131V132M1178.5 131V132M1179.5 130V131M1180.5 130V131M1181.5 129V130M1182.5 129V130M1183.5 129V130M1184.5 128V129M1185.5 128V129M1186.5 127V128M1187.5 127V128M1188.5 126V127M1189.5 126V127M1190.5 125V126M1191.5 124V125M1192.5 124V125M1193.5 123V124M1194.5 122V123M1195.5 122V123M1196.5 121V122M1197.5 120V121M1198.5 120V121M1199.5 119V120M1200.5 119V120M1201.5 118V119M1202.5 117V118M1203.5 117V118M1204.5 116V117M1205.5 115V116M1206.5 114V115M1207.5 114V115M1208.5 113V114M1209.5 113V114M1210.5 112V113M1211.5 112V113M1212.5 111V112M1213.5 111V112M1214.5 110V111M1215.5 110V111M1216.5 109V110M1217.5 108V109M1218.5 108V109M1219.5 107V108M1220.5 106V107M1221.5 106V107M1222.5 105V106M1223.5 104V105M1224.5 104V105M1225.5 103V104M1226.5 103V104M1227.5 102V103M1228.5 102V103M1229.5 101V102M1230.5 101V102M1231.5 100V101M1232.5 100V101M1233.5 99V100M1234.5 99V100M1235.5 98V99M1236.5 98V99M1237.5 98V99M1238.5 97V98M1239.5 97V98M1240.5 96V97M1241.5 96V97M1242.5 96V97M1243.5 95V96M1244.5 95V96M1245.5 95V96M1246.5 94V95M1247.5 94V95M1248.5 93V94M1249.5 93V94M1250.5 92V93M1251.5 92V93M1252.5 91V92M1253.5 90V91M1254.5 90V91M1255.5 89V90M1256.5 89V90M1257.5 88V89M1258.5 88V89M1259.5 87V88M1260.5 87V88M1261.5 86V87M1262.5 86V87M1263.5 85V86M1264.5 85V86M1265.5 84V85M1266.5 84V85" stroke="#0000cd" stroke-width="1" fill="none"/><path d="M3.5 177V178M4.5 177V178M5.5 178V179M6.5 178V179M7.5 178V179M8.5 178V179M9.5 178V179M10.5 178V179M11.5 179V180M12.5 179V180M13.5 179V180M14.5 179V180M15.5 179V180M16.5 179V180M17.5 179V180M18.5 179V180M19.5 179V180M20.5 179V180M21.5 180V181M22.5 180V181M23.5 180V181M24.5 180V181M25.5 180V181M26.5 180V181M27.5 180V181M28.5 180V181M29.5 180V181M30.5 181V182M31.5 181V182M32.5 181V182M33.5 181V182M34.5 181V182M35.5 181V182M36.5 181V182M37.5 181V182M38.5 181V182M39.5 181V182M40.5 181V182M41.5 181V182M42.5 181V182M43.5 181V182M44.5 181V182M45.5 181V182M46.5 182V183M47.5 183V184M48.5 183V184M49.5 183V184M50.5 183V184M51.5 183V184M52.5 183V184M53.5 183V184M54.5 184V185M55.5 184V185M56.5 185V186M57.5 185V186M58.5 186V187M59.5 186V187M60.5 186V187M61.5 186V187M62.5 186V187M63.5 186V187M64.5 186V187M65.5 186V187M66.5 185V186M67.5 185V186M68.5 185V186M69.5 185V186M70.5 184V185M71.5 184V185M72.5 184V185M73.5 183V184M74.5 183V184M75.5 183V184M76.5 182V183M77.5 182V183M78.5 182V183M79.5 182V183M80.5 181V182M81.5 181V182M82.5 180V181M83.5 180V181M84.5 179V180M85.5 178V179M86.5 178V179M87.5 177V178M88.5 177V178M89.5 176V177M90.5 176V177M91.5 175V176M92.5 175V176M93.5 175V176M94.5 174V175M95.5 174V175M96.5 173V174M97.5 172V173M98.5 172V173M99.5 171V172M100.5 170V171M101.5 169V170M102.5 168V169M103.5 168V169M104.5 167V168M105.5 166V167M106.5 166V167M107.5 165V166M108.5 165V166M109.5 164V165M110.5 163V164M111.5 163V164M112.5 162V163M113.5 162V163M114.5 161V162M115.5 161V162M116.5 161V162M117.5 161V162M118.5 160V161M119.5 160V161M120.5 160V161M121.5 160V161M122.5 161V162M123.5 161V162M124.5 161V162M125.5 162V163M126.5 162V163M127.5 162V163M128.5 162V163M129.5 163V164M130.5 163V164M131.5 163V164M132.5 163V164M133.5 164V165M134.5 164V165M135.5 164V165M136.5 165V166M137.5 165V166M138.5 166V167M139.5 166V167M140.5 167V168M141.5 168V169M142.5 168V169M143.5 169V170M144.5 169V170M145.5 170V171M146.5 170V171M147.5 171V172M148.5 171V172M149.5 172V173M150.5 172V173M151.5 173V174M152.5 174V175M153.5 175V176M154.5 175V176M155.5 176V177M156.5 177V178M157.5 177V178M158.5 178V179M159.5 179V180M160.5 179V180M161.5 180V181M162.5 181V182M163.5 181V182M164.5 182V183M165.5 182V183M166.5 183V184M167.5 184V185M168.5 184V185M169.5 185V186M170.5 185V186M171.5 186V187M172.5 186V187M173.5 186V187M174.5 186V187M175.5 186V187M176.5 186V187M177.5 186V187M178.5 186V187M179.5 186V187M180.5 186V187M181.5 186V187M182.5 187V188M183.5 187V188M184.5 187V188M185.5 187V188M186.5 187V188M187.5 188V189M188.5 188V189M189.5 188V189M190.5 188V189M191.5 188V189M192.5 188V189M193.5 188V189M194.5 188V189M195.5 188V189M196.5 187V188M197.5 187V188M198.5 187V188M199.5 187V188M200.5 187V188M201.5 187V188M202.5 187V188M203.5 187V188M204.5 187V188M205.5 187V188M206.5 187V188M207.5 187V188M208.5 187V188M209.5 187V188M210.5 187V188M211.5 187V188M212.5 187V188M213.5 186V187M214.5 185V186M215.5 184V185M216.5 184V185M217.5 183V184M218.5 182V183M219.5 181V182M220.5 180V181M221.5 180V181M222.5 179V180M223.5 179V180M224.5 178V179M225.5 178V179M226.5 177V178M227.5 177V178M228.5 177V178M229.5 176V177M230.5 176V177M231.5 175V176M232.5 175V176M233.5 175V176M234.5 174V175M235.5 174V175M236.5 173V174M237.5 173V174M238.5 172V173M239.5 172V173M240.5 171V172M241.5 170V171M242.5 170V171M243.5 170V171M244.5 169V170M245.5 169V170M246.5 169V170M247.5 169V170M248.5 168V169M249.5 168V169M250.5 168V169M251.5 168V169M252.5 168V169M253.5 167V168M254.5 167V168M255.5 167V168M256.5 166V167M257.5 166V167M258.5 165V166M259.5 165V166M260.5 164V165M261.5 163V164M262.5 163V164M263.5 162V163M264.5 162V163M265.5 161V162M266.5 160V161M267.5 160V161M268.5 159V160M269.5 159V160M270.5 158V159M271.5 158V159M272.5 158V159M273.5 157V158M274.5 157V158M275.5 157V158M276.5 156V157M277.5 156V157M278.5 156V157M279.5 156V157M280.5 156V157M281.5 156V157M282.5 155V156M283.5 155V156M284.5 155V156M285.5 155V156M286.5 155V156M287.5 155V156M288.5 155V156M289.5 155V156M290.5 155V156M291.5 154V155M292.5 154V155M293.5 154V155M294.5 154V155M295.5 154V155M296.5 154V155M297.5 154V155M298.5 154V155M299.5 154V155M300.5 154V155M301.5 154V155M302.5 154V155M303.5 154V155M304.5 154V155M305.5 154V155M306.5 154V155M307.5 154V155M308.5 154V155M309.5 154V155M310.5 154V155M311.5 155V156M312.5 155V156M313.5 155V156M314.5 156V157M315.5 156V157M316.5 156V157M317.5 157V158M318.5 157V158M319.5 158V159M320.5 158V159M321.5 158V159M322.5 159V160M323.5 159V160M324.5 160V161M325.5 160V161M326.5 160V161M327.5 161V162M328.5 161V162M329.5 162V163M330.5 162V163M331.5 162V163M332.5 163V164M333.5 163V164M334.5 164V165M335.5 164V165M336.5 165V166M337.5 165V166M338.5 166V167M339.5 166V167M340.5 167V168M341.5 167V168M342.5 168V169M343.5 168V169M344.5 169V170M345.5 169V170M346.5 169V170M347.5 170V171M348.5 170V171M349.5 171V172M350.5 171V172M351.5 171V172M352.5 172V173M353.5 172V173M354.5 173V174M355.5 173V174M356.5 173V174M357.5 174V175M358.5 174V175M359.5 175V176M360.5 175V176M361.5 176V177M362.5 176V177M363.5 176V177M364.5 176V177M365.5 176V177M366.5 176V177M367.5 176V177M368.5 176V177M369.5 176V177M370.5 176V177M371.5 176V177M372.5 176V177M373.5 176V177M374.5 176V177M375.5 175V176M376.5 175V176M377.5 175V176M378.5 175V176M379.5 175V176M380.5 175V176M381.5 175V176M382.5 175V176M383.5 175V176M384.5 175V176M385.5 175V176M386.5 175V176M387.5 175V176M388.5 175V176M389.5 175V176M390.5 175V176M391.5 174V175M392.5 174V175M393.5 174V175M394.5 174V175M395.5 174V175M396.5 173V174M397.5 173V174M398.5 173V174M399.5 173V174M400.5 173V174M401.5 172V173M402.5 172V173M403.5 172V173M404.5 171V172M405.5 170V171M406.5 170V171M407.5 169V170M408.5 168V169M409.5 168V169M410.5 167V168M411.5 166V167M412.5 166V167M413.5 165V166M414.5 165V166M415.5 164V165M416.5 164V165M417.5 163V164M418.5 162V163M419.5 162V163M420.5 162V163M421.5 161V162M422.5 161V162M423.5 161V162M424.5 161V162M425.5 160V161M426.5 160V161M427.5 160V161M428.5 159V160M429.5 159V160M430.5 159V160M431.5 159V160M432.5 158V159M433.5 158V159M434.5 158V159M435.5 158V159M436.5 157V158M437.5 157V158M438.5 157V158M439.5 156V157M440.5 156V157M441.5 156V157M442.5 155V156M443.5 155V156M444.5 155V156M445.5 154V155M446.5 154V155M447.5 154V155M448.5 153V154M449.5 153V154M450.5 152V153M451.5 152V153M452.5 151V152M453.5 150V151M454.5 150V151M455.5 149V150M456.5 148V149M457.5 148V149M458.5 147V148M459.5 146V147M460.5 146V147M461.5 145V146M462.5 145V146M463.5 144V145M464.5 144V145M465.5 144V145M466.5 143V144M467.5 142V143M468.5 142V143M469.5 141V142M470.5 141V142M471.5 140V141M472.5 139V140M473.5 139V140M474.5 138V139M475.5 137V138M476.5 137V138M477.5 136V137M478.5 135V136M479.5 135V136M480.5 134V135M481.5 133V134M482.5 133V134M483.5 133V134M484.5 132V133M485.5 132V133M486.5 132V133M487.5 131V132M488.5 131V132M489.5 131V132M490.5 131V132M491.5 131V132M492.5 131V132M493.5 131V132M494.5 132V133M495.5 132V133M496.5 132V133M497.5 132V133M498.5 132V133M499.5 133V134M500.5 133V134M501.5 134V135M502.5 134V135M503.5 134V135M504.5 134V135M505.5 134V135M506.5 134V135M507.5 134V135M508.5 134V135M509.5 134V135M510.5 134V135M511.5 135V136M512.5 135V136M513.5 136V137M514.5 136V137M515.5 136V137M516.5 137V138M517.5 137V138M518.5 138V139M519.5 138V139M520.5 138V139M521.5 139V140M522.5 139V140M523.5 140V141M524.5 140V141M525.5 141V142M526.5 142V143M527.5 142V143M528.5 143V144M529.5 143V144M530.5 143V144M531.5 144V145M532.5 145V146M533.5 145V146M534.5 146V147M535.5 147V148M536.5 147V148M537.5 148V149M538.5 148V149M539.5 149V150M540.5 149V150M541.5 150V151M542.5 150V151M543.5 151V152M544.5 152V153M545.5 152V153M546.5 153V154M547.5 153V154M548.5 153V154M549.5 153V154M550.5 153V154M551.5 153V154M552.5 153V154M553.5 153V154M554.5 153V154M555.5 153V154M556.5 153V154M557.5 153V154M558.5 154V155M559.5 154V155M560.5 154V155M561.5 155V156M562.5 155V156M563.5 156V157M564.5 157V158M565.5 158V159M566.5 159V160M567.5 160V161M568.5 161V162M569.5 161V162M570.5 162V163M571.5 163V164M572.5 164V165M573.5 165V166M574.5 166V167M575.5 167V168M576.5 168V169M577.5 169V170M578.5 170V171M579.5 171V172M580.5 172V173M581.5 172V173M582.5 173V174M583.5 174V175M584.5 175V176M585.5 176V177M586.5 176V177M587.5 177V178M588.5 178V179M589.5 179V180M590.5 180V181M591.5 180V181M592.5 181V182M593.5 181V182M594.5 182V183M595.5 182V183M596.5 183V184M597.5 183V184M598.5 184V185M599.5 184V185M600.5 185V186M601.5 186V187M602.5 186V187M603.5 187V188M604.5 188V189M605.5 189V190M606.5 190V191M607.5 191V192M608.5 192V193M609.5 192V193M610.5 193V194M611.5 193V194M612.5 194V195M613.5 194V195M614.5 195V196M615.5 195V196M616.5 196V197M617.5 196V197M618.5 197V198M619.5 197V198M620.5 197V198M621.5 197V198M622.5 197V198M623.5 197V198M624.5 198V199M625.5 198V199M626.5 198V199M627.5 198V199M628.5 198V199M629.5 198V199M630.5 197V198M631.5 197V198M632.5 197V198M633.5 197V198M634.5 197V198M635.5 197V198M636.5 197V198M637.5 197V198M638.5 197V198M639.5 197V198M640.5 197V198M641.5 197V198M642.5 197V198M643.5 197V198M644.5 197V198M645.5 198V199M646.5 198V199M647.5 199V200M648.5 199V200M649.5 200V201M650.5 200V201M651.5 201V202M652.5 201V202M653.5 202V203M654.5 202V203M655.5 203V204M656.5 203V204M657.5 203V204M658.5 204V205M659.5 204V205M660.5 205V206M661.5 205V206M662.5 205V206M663.5 206V207M664.5 206V207M665.5 207V208M666.5 207V208M667.5 208V209M668.5 208V209M669.5 209V210M670.5 210V211M671.5 211V212M672.5 212V213M673.5 213V215M674.5 215V216M675.5 216V217M676.5 217V218M677.5 218V219M678.5 219V220M679.5 220V222M680.5 222V223M681.5 223V224M682.5 224V225M683.5 225V226M684.5 225V226M685.5 225V226M686.5 225V226M687.5 225V226M688.5 226V227M689.5 226V227M690.5 227V228M691.5 228V229M692.5 228V229M693.5 229V230M694.5 229V230M695.5 230V231M696.5 230V231M697.5 231V232M698.5 230V231M699.5 230V231M700.5 230V231M701.5 230V231M702.5 230V231M703.5 230V231M704.5 230V231M705.5 230V231M706.5 230V231M707.5 230V231M708.5 231V232M709.5 231V232M710.5 231V232M711.5 232V233M712.5 233V234M713.5 234V235M714.5 235V236M715.5 236V237M716.5 237V238M717.5 238V240M718.5 240V241M719.5 241V243M720.5 243V245M721.5 245V247M722.5 247V250M723.5 250V251M724.5 251V253M725.5 253V254M726.5 254V256M727.5 256V258M728.5 258V259M729.5 259V261M730.5 261V263M731.5 263V265M732.5 265V267M733.5 267V270M734.5 270V272M735.5 272V275M736.5 275V278M737.5 278V282M738.5 282V286M739.5 286V289M740.5 289V293M741.5 293V296M742.5 296V299M743.5 299V303M744.5 303V306M745.5 306V310M746.5 310V314M747.5 314V317M748.5 317V321M749.5 321V325M750.5 325V329M751.5 329V333M752.5 333V337M753.5 337V341M754.5 341V344M755.5 344V348M756.5 348V352M757.5 352V356M758.5 356V360M759.5 360V363M760.5 363V366M761.5 366V369M762.5 369V372M763.5 372V375M764.5 375V378M765.5 378V381M766.5 381V384M767.5 384V387M768.5 387V388M769.5 388V389M770.5 388V389M771.5 389V390M772.5 390V391M773.5 391V392M774.5 391V392M775.5 391V392M776.5 391V392M777.5 392V393M778.5 392V393M779.5 392V393M780.5 392V393M781.5 393V394M782.5 393V394M783.5 393V394M784.5 393V394M785.5 393V394M786.5 393V394M787.5 393V394M788.5 393V394M789.5 392V393M790.5 392V393M791.5 391V392M792.5 391V392M793.5 390V391M794.5 389V390M795.5 389V390M796.5 388V389M797.5 387V388M798.5 385V387M799.5 384V385M800.5 382V384M801.5 381V382M802.5 379V381M803.5 377V379M804.5 375V377M805.5 373V375M806.5 371V373M807.5 369V371M808.5 367V369M809.5 365V367M810.5 363V365M811.5 362V363M812.5 360V362M813.5 358V360M814.5 357V358M815.5 355V357M816.5 354V355M817.5 352V354M818.5 350V352M819.5 349V350M820.5 348V349M821.5 346V348M822.5 345V346M823.5 343V345M824.5 342V343M825.5 340V342M826.5 339V340M827.5 338V339M828.5 337V338M829.5 336V337M830.5 335V336M831.5 334V335M832.5 333V334M833.5 332V333M834.5 331V332M835.5 330V331M836.5 329V330M837.5 328V329M838.5 328V329M839.5 327V328M840.5 326V327M841.5 325V326M842.5 324V325M843.5 323V324M844.5 321V323M845.5 319V321M846.5 317V319M847.5 316V317M848.5 314V316M849.5 312V314M850.5 311V312M851.5 310V311M852.5 308V310M853.5 307V308M854.5 306V307M855.5 304V306M856.5 303V304M857.5 302V303M858.5 301V302M859.5 300V301M860.5 299V300M861.5 298V299M862.5 297V298M863.5 297V298M864.5 296V297M865.5 296V297M866.5 295V296M867.5 294V295M868.5 294V295M869.5 293V294M870.5 293V294M871.5 292V293M872.5 292V293M873.5 291V292M874.5 291V292M875.5 290V291M876.5 289V290M877.5 289V290M878.5 288V289M879.5 287V288M880.5 287V288M881.5 286V287M882.5 285V286M883.5 285V286M884.5 284V285M885.5 284V285M886.5 283V284M887.5 283V284M888.5 282V283M889.5 282V283M890.5 281V282M891.5 281V282M892.5 280V281M893.5 280V281M894.5 280V281M895.5 279V280M896.5 279V280M897.5 278V279M898.5 278V279M899.5 278V279M900.5 277V278M901.5 277V278M902.5 276V277M903.5 276V277M904.5 276V277M905.5 275V276M906.5 274V275M907.5 273V274M908.5 273V274M909.5 272V273M910.5 271V272M911.5 270V271M912.5 269V270M913.5 268V269M914.5 267V268M915.5 266V267M916.5 266V267M917.5 265V266M918.5 264V265M919.5 264V265M920.5 263V264M921.5 262V263M922.5 262V263M923.5 262V263M924.5 261V262M925.5 261V262M926.5 261V262M927.5 260V261M928.5 260V261M929.5 260V261M930.5 260V261M931.5 260V261M932.5 260V261M933.5 260V261M934.5 261V262M935.5 261V262M936.5 262V263M937.5 262V263M938.5 263V264M939.5 263V264M940.5 264V265M941.5 264V265M942.5 265V266M943.5 265V266M944.5 265V266M945.5 265V266M946.5 265V266M947.5 264V265M948.5 263V264M949.5 262V263M950.5 262V263M951.5 261V262M952.5 260V261M953.5 259V260M954.5 258V259M955.5 257V258M956.5 256V257M957.5 256V257M958.5 255V256M959.5 255V256M960.5 254V255M961.5 254V255M962.5 253V254M963.5 253V254M964.5 253V254M965.5 253V254M966.5 253V254M967.5 253V254M968.5 253V254M969.5 253V254M970.5 253V254M971.5 253V254M972.5 252V253M973.5 251V252M974.5 251V252M975.5 250V251M976.5 249V250M977.5 249V250M978.5 248V249M979.5 247V248M980.5 247V248M981.5 246V247M982.5 245V246M983.5 245V246M984.5 244V245M985.5 243V244M986.5 243V244M987.5 241V243M988.5 240V241M989.5 239V240M990.5 237V239M991.5 236V237M992.5 234V236M993.5 232V234M994.5 230V232M995.5 228V230M996.5 225V228M997.5 223V225M998.5 221V223M999.5 219V221M1000.5 217V219M1001.5 215V217M1002.5 213V215M1003.5 211V213M1004.5 209V211M1005.5 208V209M1006.5 206V208M1007.5 204V206M1008.5 202V204M1009.5 201V202M1010.5 199V201M1011.5 197V199M1012.5 195V197M1013.5 193V195M1014.5 191V193M1015.5 188V191M1016.5 186V188M1017.5 184V186M1018.5 182V184M1019.5 180V182M1020.5 178V180M1021.5 176V178M1022.5 174V176M1023.5 171V174M1024.5 169V171M1025.5 167V169M1026.5 166V167M1027.5 165V166M1028.5 164V165M1029.5 162V164M1030.5 161V162M1031.5 160V161M1032.5 159V160M1033.5 158V159M1034.5 157V158M1035.5 156V157M1036.5 155V156M1037.5 154V155M1038.5 153V154M1039.5 152V153M1040.5 151V152M1041.5 150V151M1042.5 149V150M1043.5 147V149M1044.5 146V147M1045.5 145V146M1046.5 144V145M1047.5 143V144M1048.5 143V144M1049.5 142V143M1050.5 142V143M1051.5 142V143M1052.5 142V143M1053.5 142V143M1054.5 142V143M1055.5 142V143M1056.5 142V143M1057.5 142V143M1058.5 143V144M1059.5 143V144M1060.5 144V145M1061.5 144V145M1062.5 144V145M1063.5 145V146M1064.5 145V146M1065.5 145V146M1066.5 146V147M1067.5 146V147M1068.5 146V147M1069.5 147V148M1070.5 147V148M1071.5 148V149M1072.5 148V149M1073.5 149V150M1074.5 149V150M1075.5 150V151M1076.5 150V151M1077.5 151V152M1078.5 151V152M1079.5 152V153M1080.5 152V153M1081.5 153V154M1082.5 153V154M1083.5 154V155M1084.5 154V155M1085.5 154V155M1086.5 155V156M1087.5 155V156M1088.5 155V156M1089.5 156V157M1090.5 156V157M1091.5 156V157M1092.5 156V157M1093.5 156V157M1094.5 156V157M1095.5 156V157M1096.5 155V156M1097.5 154V155M1098.5 154V155M1099.5 153V154M1100.5 153V154M1101.5 152V153M1102.5 152V153M1103.5 151V152M1104.5 151V152M1105.5 151V152M1106.5 150V151M1107.5 150V151M1108.5 149V150M1109.5 149V150M1110.5 149V150M1111.5 148V149M1112.5 148V149M1113.5 147V148M1114.5 147V148M1115.5 147V148M1116.5 146V147M1117.5 146V147M1118.5 145V146M1119.5 145V146M1120.5 145V146M1121.5 144V145M1122.5 144V145M1123.5 144V145M1124.5 143V144M1125.5 143V144M1126.5 142V143M1127.5 142V143M1128.5 142V143M1129.5 141V142M1130.5 141V142M1131.5 141V142M1132.5 140V141M1133.5 140V141M1134.5 139V140M1135.5 139V140M1136.5 138V139M1137.5 138V139M1138.5 138V139M1139.5 137V138M1140.5 137V138M1141.5 136V137M1142.5 136V137M1143.5 136V137M1144.5 135V136M1145.5 134V135M1146.5 133V134M1147.5 133V134M1148.5 132V133M1149.5 131V132M1150.5 131V132M1151.5 131V132M1152.5 131V132M1153.5 130V131M1154.5 130V131M1155.5 130V131M1156.5 129V130M1157.5 129V130M1158.5 128V129M1159.5 128V129M1160.5 128V129M1161.5 127V128M1162.5 127V128M1163.5 127V128M1164.5 126V127M1165.5 125V126M1166.5 124V125M1167.5 123V124M1168.5 122V123M1169.5 121V122M1170.5 120V121M1171.5 120V121M1172.5 119V120M1173.5 118V119M1174.5 118V119M1175.5 117V118M1176.5 116V117M1177.5 116V117M1178.5 115V116M1179.5 114V115M1180.5 114V115M1181.5 113V114M1182.5 112V113M1183.5 112V113M1184.5 111V112M1185.5 110V111M1186.5 110V111M1187.5 109V110M1188.5 108V109M1189.5 107V108M1190.5 106V107M1191.5 105V106M1192.5 104V105M1193.5 103V104M1194.5 102V103M1195.5 101V102M1196.5 100V101M1197.5 99V100M1198.5 98V99M1199.5 98V99M1200.5 97V98M1201.5 96V97M1202.5 95V96M1203.5 95V96M1204.5 94V95M1205.5 93V94M1206.5 93V94M1207.5 92V93M1208.5 91V92M1209.5 90V91M1210.5 90V91M1211.5 89V90M1212.5 89V90M1213.5 89V90M1214.5 88V89M1215.5 87V88M1216.5 86V87M1217.5 85V86M1218.5 84V85M1219.5 83V84M1220.5 82V83M1221.5 82V83M1222.5 81V82M1223.5 81V82M1224.5 81V82M1225.5 81V82M1226.5 81V82M1227.5 81V82M1228.5 81V82M1229.5 81V82M1230.5 81V82M1231.5 81V82M1232.5 81V82M1233.5 80V81M1234.5 80V81M1235.5 79V80M1236.5 79V80M1237.5 78V79M1238.5 78V79M1239.5 78V79M1240.5 78V79M1241.5 78V79M1242.5 78V79M1243.5 77V78M1244.5 77V78M1245.5 77V78M1246.5 77V78M1247.5 77V78M1248.5 77V78M1249.5 77V78M1250.5 77V78M1251.5 77V78M1252.5 77V78M1253.5 77V78M1254.5 77V78M1255.5 76V77M1256.5 76V77M1257.5 76V77M1258.5 75V76M1259.5 75V76M1260.5 75V76M1261.5 74V75M1262.5 74V75M1263.5 73V74M1264.5 73V74M1265.5 72V73M1266.5 72V73" stroke="#ff0000" stroke-width="1" fill="none"/><path d="M3.5 181V182M4.5 180V181M5.5 180V181M6.5 180V181M7.5 180V181M8.5 180V181M9.5 180V181M10.5 180V181M11.5 180V181M12.5 180V181M13.5 180V181M14.5 179V180M15.5 179V180M16.5 179V180M17.5 179V180M18.5 179V180M19.5 179V180M20.5 179V180M21.5 179V180M22.5 179V180M23.5 180V181M24.5 180V181M25.5 181V182M26.5 181V182M27.5 181V182M28.5 182V183M29.5 182V183M30.5 183V184M31.5 183V184M32.5 183V184M33.5 183V184M34.5 183V184M35.5 183V184M36.5 183V184M37.5 183V184M38.5 183V184M39.5 183V184M40.5 183V184M41.5 184V185M42.5 184V185M43.5 185V186M44.5 185V186M45.5 186V187M46.5 186V187M47.5 186V187M48.5 186V187M49.5 186V187M50.5 187V188M51.5 187V188M52.5 188V189M53.5 188V189M54.5 189V190M55.5 190V191M56.5 190V191M57.5 191V192M58.5 192V193M59.5 192V193M60.5 192V193M61.5 192V193M62.5 192V193M63.5 192V193M64.5 191V192M65.5 190V191M66.5 189V190M67.5 188V189M68.5 187V188M69.5 185V187M70.5 184V185M71.5 183V184M72.5 181V183M73.5 180V181M74.5 178V180M75.5 176V178M76.5 175V176M77.5 173V175M78.5 171V173M79.5 169V171M80.5 168V169M81.5 166V168M82.5 164V166M83.5 163V164M84.5 162V163M85.5 161V162M86.5 160V161M87.5 159V160M88.5 159V160M89.5 158V159M90.5 158V159M91.5 158V159M92.5 158V159M93.5 157V158M94.5 157V158M95.5 157V158M96.5 156V157M97.5 156V157M98.5 155V156M99.5 155V156M100.5 154V155M101.5 154V155M102.5 154V155M103.5 154V155M104.5 154V155M105.5 154V155M106.5 155V156M107.5 155V156M108.5 155V156M109.5 155V156M110.5 155V156M111.5 155V156M112.5 155V156M113.5 155V156M114.5 155V156M115.5 156V157M116.5 157V158M117.5 158V159M118.5 159V161M119.5 161V162M120.5 162V163M121.5 163V165M122.5 165V166M123.5 166V167M124.5 167V169M125.5 169V170M126.5 170V171M127.5 171V173M128.5 173V174M129.5 174V175M130.5 175V176M131.5 176V177M132.5 177V178M133.5 178V179M134.5 179V180M135.5 179V180M136.5 180V181M137.5 181V182M138.5 181V182M139.5 182V183M140.5 182V183M141.5 183V184M142.5 183V184M143.5 183V184M144.5 183V184M145.5 183V184M146.5 183V184M147.5 183V184M148.5 183V184M149.5 183V184M150.5 183V184M151.5 184V185M152.5 184V185M153.5 185V186M154.5 185V186M155.5 186V187M156.5 186V187M157.5 187V188M158.5 188V189M159.5 188V189M160.5 189V190M161.5 190V191M162.5 191V192M163.5 191V192M164.5 191V192M165.5 191V192M166.5 191V192M167.5 192V193M168.5 192V193M169.5 192V193M170.5 192V193M171.5 192V193M172.5 192V193M173.5 191V192M174.5 191V192M175.5 191V192M176.5 190V191M177.5 190V191M178.5 190V191M179.5 189V190M180.5 189V190M181.5 188V189M182.5 187V188M183.5 187V188M184.5 187V188M185.5 187V188M186.5 188V189M187.5 188V189M188.5 188V189M189.5 188V189M190.5 188V189M191.5 188V189M192.5 187V188M193.5 187V188M194.5 186V187M195.5 185V186M196.5 185V186M197.5 184V185M198.5 183V184M199.5 183V184M200.5 182V183M201.5 181V182M202.5 181V182M203.5 180V181M204.5 180V181M205.5 179V180M206.5 179V180M207.5 179V180M208.5 179V180M209.5 180V181M210.5 180V181M211.5 180V181M212.5 179V180M213.5 179V180M214.5 178V179M215.5 178V179M216.5 177V178M217.5 176V177M218.5 176V177M219.5 175V176M220.5 174V175M221.5 173V174M222.5 172V173M223.5 171V172M224.5 169V171M225.5 168V169M226.5 167V168M227.5 165V167M228.5 164V165M229.5 163V164M230.5 161V163M231.5 160V161M232.5 160V161M233.5 159V160M234.5 159V160M235.5 159V160M236.5 159V160M237.5 160V161M238.5 160V161M239.5 160V161M240.5 161V162M241.5 161V162M242.5 162V163M243.5 162V163M244.5 163V164M245.5 163V164M246.5 164V165M247.5 164V165M248.5 165V166M249.5 165V166M250.5 165V166M251.5 166V167M252.5 166V167M253.5 165V166M254.5 165V166M255.5 164V165M256.5 164V165M257.5 163V164M258.5 163V164M259.5 162V163M260.5 161V162M261.5 161V162M262.5 160V161M263.5 159V160M264.5 157V159M265.5 156V157M266.5 155V156M267.5 154V155M268.5 153V154M269.5 152V153M270.5 151V152M271.5 150V151M272.5 149V150M273.5 149V150M274.5 148V149M275.5 148V149M276.5 147V148M277.5 147V148M278.5 147V148M279.5 147V148M280.5 147V148M281.5 147V148M282.5 147V148M283.5 147V148M284.5 147V148M285.5 147V148M286.5 148V149M287.5 148V149M288.5 149V150M289.5 149V150M290.5 150V151M291.5 150V151M292.5 151V152M293.5 152V153M294.5 153V154M295.5 153V154M296.5 154V155M297.5 154V155M298.5 155V156M299.5 156V157M300.5 156V157M301.5 157V158M302.5 157V158M303.5 158V159M304.5 159V160M305.5 159V160M306.5 160V161M307.5 161V162M308.5 162V163M309.5 163V164M310.5 164V165M311.5 164V165M312.5 165V166M313.5 166V167M314.5 167V168M315.5 168V169M316.5 168V169M317.5 169V170M318.5 169V170M319.5 170V171M320.5 170V171M321.5 170V171M322.5 171V172M323.5 171V172M324.5 171V172M325.5 171V172M326.5 171V172M327.5 171V172M328.5 171V172M329.5 171V172M330.5 170V171M331.5 170V171M332.5 171V172M333.5 171V172M334.5 171V172M335.5 172V173M336.5 172V173M337.5 172V173M338.5 172V173M339.5 173V174M340.5 173V174M341.5 174V175M342.5 174V175M343.5 175V176M344.5 175V176M345.5 176V177M346.5 176V177M347.5 177V178M348.5 177V178M349.5 177V178M350.5 178V179M351.5 178V179M352.5 178V179M353.5 178V179M354.5 179V180M355.5 179V180M356.5 179V180M357.5 179V180M358.5 179V180M359.5 180V181M360.5 180V181M361.5 180V181M362.5 180V181M363.5 181V182M364.5 181V182M365.5 181V182M366.5 181V182M367.5 181V182M368.5 181V182M369.5 180V181M370.5 180V181M371.5 180V181M372.5 179V180M373.5 178V179M374.5 177V178M375.5 176V177M376.5 175V176M377.5 174V175M378.5 173V174M379.5 172V173M380.5 171V172M381.5 170V171M382.5 169V170M383.5 168V169M384.5 167V168M385.5 166V167M386.5 166V167M387.5 165V166M388.5 164V165M389.5 164V165M390.5 164V165M391.5 164V165M392.5 164V165M393.5 164V165M394.5 164V165M395.5 164V165M396.5 164V165M397.5 165V166M398.5 165V166M399.5 165V166M400.5 166V167M401.5 166V167M402.5 166V167M403.5 166V167M404.5 165V166M405.5 164V165M406.5 163V164M407.5 162V163M408.5 161V162M409.5 160V161M410.5 160V161M411.5 159V160M412.5 159V160M413.5 158V159M414.5 158V159M415.5 157V158M416.5 156V157M417.5 155V156M418.5 154V155M419.5 153V154M420.5 153V154M421.5 153V154M422.5 153V154M423.5 153V154M424.5 153V154M425.5 153V154M426.5 154V155M427.5 154V155M428.5 155V156M429.5 155V156M430.5 155V156M431.5 155V156M432.5 154V155M433.5 154V155M434.5 154V155M435.5 153V154M436.5 153V154M437.5 153V154M438.5 153V154M439.5 153V154M440.5 152V153M441.5 151V152M442.5 150V151M443.5 149V150M444.5 148V149M445.5 147V148M446.5 147V148M447.5 146V147M448.5 145V146M449.5 144V145M450.5 144V145M451.5 143V144M452.5 143V144M453.5 142V143M454.5 142V143M455.5 141V142M456.5 140V141M457.5 139V140M458.5 138V139M459.5 137V138M460.5 136V137M461.5 136V137M462.5 135V136M463.5 134V135M464.5 133V134M465.5 132V133M466.5 131V132M467.5 130V131M468.5 129V130M469.5 127V129M470.5 126V127M471.5 125V126M472.5 124V125M473.5 123V124M474.5 122V123M475.5 121V122M476.5 121V122M477.5 120V121M478.5 120V121M479.5 120V121M480.5 120V121M481.5 120V121M482.5 120V121M483.5 121V122M484.5 121V122M485.5 121V122M486.5 122V123M487.5 122V124M488.5 124V125M489.5 125V127M490.5 127V128M491.5 128V130M492.5 130V132M493.5 132V134M494.5 134V136M495.5 136V138M496.5 138V140M497.5 140V142M498.5 142V144M499.5 144V146M500.5 146V147M501.5 147V148M502.5 148V149M503.5 149V150M504.5 150V151M505.5 151V152M506.5 151V152M507.5 152V153M508.5 152V153M509.5 153V154M510.5 153V154M511.5 153V154M512.5 152V153M513.5 152V153M514.5 151V152M515.5 151V152M516.5 150V151M517.5 150V151M518.5 149V150M519.5 148V149M520.5 148V149M521.5 147V148M522.5 147V148M523.5 147V148M524.5 147V148M525.5 147V148M526.5 147V148M527.5 147V148M528.5 147V148M529.5 147V148M530.5 147V148M531.5 148V149M532.5 148V149M533.5 148V149M534.5 149V150M535.5 149V150M536.5 150V151M537.5 150V151M538.5 150V151M539.5 151V152M540.5 152V153M541.5 152V153M542.5 153V154M543.5 154V155M544.5 155V156M545.5 156V157M546.5 157V158M547.5 157V158M548.5 158V159M549.5 158V159M550.5 159V160M551.5 159V160M552.5 159V160M553.5 160V161M554.5 160V161M555.5 160V161M556.5 161V162M557.5 162V163M558.5 162V163M559.5 163V164M560.5 164V165M561.5 165V167M562.5 167V168M563.5 168V169M564.5 169V171M565.5 171V172M566.5 172V173M567.5 173V175M568.5 175V176M569.5 176V177M570.5 177V179M571.5 179V180M572.5 180V182M573.5 182V184M574.5 184V185M575.5 185V187M576.5 187V188M577.5 188V190M578.5 190V191M579.5 191V193M580.5 193V194M581.5 194V195M582.5 195V196M583.5 196V197M584.5 196V197M585.5 197V198M586.5 198V199M587.5 199V200M588.5 199V200M589.5 199V200M590.5 199V200M591.5 199V200M592.5 199V200M593.5 198V199M594.5 198V199M595.5 197V198M596.5 197V198M597.5 196V197M598.5 195V196M599.5 195V196M600.5 195V196M601.5 195V196M602.5 195V196M603.5 196V197M604.5 196V197M605.5 196V197M606.5 197V198M607.5 197V198M608.5 197V198M609.5 198V199M610.5 198V199M611.5 198V199M612.5 199V200M613.5 199V200M614.5 199V200M615.5 199V200M616.5 199V200M617.5 199V200M618.5 199V200M619.5 199V200M620.5 199V200M621.5 199V200M622.5 198V199M623.5 198V199M624.5 198V199M625.5 197V198M626.5 196V197M627.5 196V197M628.5 195V196M629.5 195V196M630.5 195V196M631.5 195V196M632.5 195V196M633.5 195V196M634.5 194V195M635.5 194V195M636.5 195V196M637.5 195V196M638.5 196V197M639.5 197V198M640.5 198V199M641.5 199V200M642.5 200V201M643.5 201V202M644.5 202V203M645.5 203V204M646.5 204V205M647.5 205V206M648.5 206V208M649.5 208V209M650.5 209V210M651.5 210V211M652.5 211V212M653.5 212V213M654.5 213V214M655.5 214V215M656.5 215V216M657.5 216V217M658.5 217V218M659.5 218V219M660.5 219V220M661.5 220V221M662.5 221V222M663.5 221V222M664.5 222V223M665.5 223V224M666.5 224V225M667.5 224V225M668.5 225V226M669.5 226V227M670.5 227V229M671.5 229V230M672.5 230V232M673.5 232V234M674.5 234V235M675.5 235V237M676.5 237V239M677.5 239V241M678.5 241V242M679.5 242V243M680.5 243V245M681.5 245V246M682.5 246V247M683.5 246V247M684.5 246V247M685.5 245V246M686.5 244V245M687.5 243V244M688.5 243V244M689.5 242V243M690.5 241V242M691.5 240V241M692.5 239V240M693.5 237V239M694.5 236V237M695.5 234V236M696.5 232V234M697.5 230V232M698.5 229V230M699.5 227V229M700.5 225V227M701.5 223V225M702.5 222V223M703.5 221V222M704.5 221V222M705.5 220V221M706.5 220V221M707.5 221V222M708.5 222V223M709.5 223V224M710.5 224V226M711.5 226V227M712.5 227V229M713.5 229V231M714.5 231V233M715.5 233V236M716.5 236V240M717.5 240V244M718.5 244V248M719.5 248V252M720.5 252V260M721.5 260V269M722.5 269V277M723.5 277V285M724.5 285V293M725.5 293V299M726.5 299V303M727.5 303V307M728.5 307V312M729.5 312V316M730.5 316V321M731.5 321V325M732.5 325V333M733.5 333V340M734.5 340V347M735.5 347V354M736.5 354V361M737.5 361V366M738.5 366V372M739.5 372V378M740.5 378V383M741.5 383V389M742.5 389V394M743.5 394V397M744.5 397V399M745.5 399V403M746.5 403V407M747.5 407V411M748.5 411V415M749.5 415V419M750.5 419V423M751.5 423V426M752.5 426V430M753.5 430V433M754.5 433V436M755.5 436V437M756.5 434V436M757.5 433V434M758.5 432V433M759.5 431V432M760.5 429V431M761.5 426V429M762.5 424V426M763.5 421V424M764.5 418V421M765.5 415V418M766.5 411V415M767.5 407V411M768.5 403V407M769.5 399V403M770.5 393V399M771.5 388V393M772.5 384V388M773.5 380V384M774.5 376V380M775.5 371V376M776.5 368V371M777.5 365V368M778.5 362V365M779.5 359V362M780.5 357V359M781.5 356V357M782.5 355V356M783.5 354V355M784.5 353V354M785.5 352V353M786.5 351V352M787.5 350V351M788.5 351V352M789.5 352V353M790.5 353V354M791.5 354V356M792.5 356V359M793.5 359V362M794.5 362V365M795.5 365V368M796.5 368V369M797.5 369V370M798.5 370V371M799.5 371V372M800.5 372V373M801.5 372V373M802.5 373V374M803.5 373V375M804.5 372V373M805.5 370V372M806.5 368V370M807.5 367V368M808.5 365V367M809.5 361V365M810.5 358V361M811.5 354V358M812.5 350V354M813.5 347V350M814.5 343V347M815.5 339V343M816.5 335V339M817.5 331V335M818.5 327V331M819.5 323V327M820.5 319V323M821.5 316V319M822.5 313V316M823.5 310V313M824.5 307V310M825.5 304V307M826.5 301V304M827.5 299V301M828.5 297V299M829.5 295V297M830.5 293V295M831.5 292V293M832.5 291V292M833.5 291V292M834.5 290V291M835.5 290V291M836.5 290V291M837.5 290V291M838.5 291V292M839.5 291V292M840.5 291V292M841.5 291V292M842.5 292V293M843.5 292V293M844.5 292V293M845.5 292V293M846.5 292V293M847.5 293V294M848.5 293V294M849.5 294V295M850.5 294V295M851.5 295V296M852.5 296V297M853.5 296V297M854.5 297V298M855.5 297V298M856.5 297V298M857.5 297V298M858.5 296V297M859.5 296V297M860.5 296V297M861.5 296V297M862.5 295V296M863.5 295V296M864.5 295V296M865.5 295V296M866.5 294V295M867.5 294V295M868.5 294V295M869.5 294V295M870.5 292V294M871.5 290V292M872.5 288V290M873.5 287V288M874.5 285V287M875.5 283V285M876.5 280V283M877.5 278V280M878.5 276V278M879.5 274V276M880.5 271V274M881.5 269V271M882.5 267V269M883.5 266V267M884.5 264V266M885.5 262V264M886.5 260V262M887.5 259V260M888.5 258V259M889.5 258V259M890.5 258V259M891.5 258V259M892.5 257V258M893.5 258V259M894.5 259V260M895.5 260V261M896.5 261V262M897.5 262V263M898.5 263V264M899.5 264V265M900.5 265V266M901.5 266V267M902.5 267V269M903.5 269V270M904.5 270V272M905.5 272V274M906.5 274V275M907.5 273V274M908.5 272V273M909.5 271V272M910.5 269V271M911.5 268V269M912.5 266V268M913.5 264V266M914.5 263V264M915.5 262V263M916.5 260V262M917.5 259V260M918.5 258V259M919.5 257V258M920.5 256V257M921.5 256V257M922.5 256V257M923.5 255V256M924.5 254V255M925.5 253V254M926.5 252V253M927.5 251V252M928.5 252V253M929.5 252V253M930.5 253V254M931.5 253V255M932.5 255V257M933.5 257V258M934.5 258V260M935.5 260V262M936.5 262V263M937.5 263V264M938.5 264V266M939.5 266V267M940.5 267V268M941.5 267V268M942.5 268V269M943.5 269V270M944.5 269V270M945.5 268V269M946.5 268V269M947.5 267V268M948.5 265V267M949.5 264V265M950.5 263V264M951.5 261V263M952.5 259V261M953.5 257V259M954.5 255V257M955.5 253V255M956.5 251V253M957.5 249V251M958.5 247V249M959.5 245V247M960.5 244V245M961.5 242V244M962.5 241V242M963.5 240V241M964.5 239V240M965.5 239V240M966.5 238V239M967.5 238V239M968.5 238V239M969.5 238V239M970.5 238V239M971.5 239V240M972.5 239V240M973.5 238V239M974.5 238V239M975.5 238V239M976.5 237V238M977.5 237V238M978.5 236V237M979.5 235V236M980.5 234V235M981.5 233V234M982.5 231V233M983.5 229V231M984.5 228V229M985.5 226V228M986.5 224V226M987.5 222V224M988.5 220V222M989.5 218V220M990.5 217V218M991.5 215V217M992.5 213V215M993.5 211V213M994.5 210V211M995.5 206V210M996.5 202V206M997.5 198V202M998.5 195V198M999.5 191V195M1000.5 188V191M1001.5 185V188M1002.5 182V185M1003.5 178V182M1004.5 173V178M1005.5 167V173M1006.5 163V167M1007.5 159V163M1008.5 155V159M1009.5 151V155M1010.5 147V151M1011.5 144V147M1012.5 141V144M1013.5 138V141M1014.5 136V138M1015.5 135V136M1016.5 133V135M1017.5 132V133M1018.5 130V132M1019.5 129V130M1020.5 129V130M1021.5 129V130M1022.5 129V130M1023.5 129V130M1024.5 128V129M1025.5 128V129M1026.5 127V128M1027.5 126V127M1028.5 127V128M1029.5 128V130M1030.5 130V131M1031.5 131V133M1032.5 133V134M1033.5 134V136M1034.5 136V137M1035.5 137V139M1036.5 139V141M1037.5 141V143M1038.5 143V145M1039.5 145V146M1040.5 146V148M1041.5 148V150M1042.5 150V151M1043.5 151V153M1044.5 153V154M1045.5 154V156M1046.5 156V157M1047.5 156V157M1048.5 156V157M1049.5 156V157M1050.5 156V157M1051.5 156V157M1052.5 156V157M1053.5 156V157M1054.5 156V157M1055.5 156V157M1056.5 156V157M1057.5 156V157M1058.5 156V157M1059.5 156V157M1060.5 156V157M1061.5 156V157M1062.5 156V157M1063.5 156V157M1064.5 156V157M1065.5 155V156M1066.5 155V156M1067.5 154V155M1068.5 154V155M1069.5 153V154M1070.5 152V153M1071.5 152V153M1072.5 152V153M1073.5 151V152M1074.5 151V152M1075.5 151V152M1076.5 151V152M1077.5 150V151M1078.5 150V151M1079.5 150V151M1080.5 149V150M1081.5 149V150M1082.5 149V150M1083.5 149V150M1084.5 149V150M1085.5 150V151M1086.5 151V152M1087.5 152V153M1088.5 153V154M1089.5 154V155M1090.5 155V156M1091.5 156V157M1092.5 156V157M1093.5 156V157M1094.5 156V157M1095.5 156V157M1096.5 155V156M1097.5 154V155M1098.5 153V154M1099.5 152V153M1100.5 152V153M1101.5 151V152M1102.5 150V151M1103.5 149V150M1104.5 148V149M1105.5 147V148M1106.5 146V147M1107.5 145V146M1108.5 144V145M1109.5 142V144M1110.5 141V142M1111.5 140V141M1112.5 139V140M1113.5 138V139M1114.5 137V138M1115.5 137V138M1116.5 136V137M1117.5 135V136M1118.5 135V136M1119.5 134V135M1120.5 133V134M1121.5 132V133M1122.5 132V133M1123.5 132V133M1124.5 131V132M1125.5 131V132M1126.5 131V132M1127.5 130V131M1128.5 130V131M1129.5 130V131M1130.5 130V131M1131.5 131V132M1132.5 131V132M1133.5 131V132M1134.5 131V132M1135.5 131V132M1136.5 131V132M1137.5 131V132M1138.5 131V132M1139.5 131V132M1140.5 131V132M1141.5 130V131M1142.5 130V131M1143.5 130V131M1144.5 129V130M1145.5 129V130M1146.5 128V129M1147.5 128V129M1148.5 127V128M1149.5 127V128M1150.5 126V127M1151.5 125V126M1152.5 125V126M1153.5 124V125M1154.5 124V125M1155.5 123V124M1156.5 123V124M1157.5 122V123M1158.5 122V123M1159.5 121V122M1160.5 121V122M1161.5 121V122M1162.5 120V121M1163.5 119V120M1164.5 118V119M1165.5 117V119M1166.5 115V117M1167.5 113V115M1168.5 111V113M1169.5 108V111M1170.5 106V108M1171.5 104V106M1172.5 102V104M1173.5 100V102M1174.5 99V100M1175.5 97V99M1176.5 96V97M1177.5 95V96M1178.5 94V95M1179.5 93V94M1180.5 92V93M1181.5 91V92M1182.5 90V91M1183.5 89V90M1184.5 89V90M1185.5 88V89M1186.5 88V89M1187.5 88V89M1188.5 88V89M1189.5 88V89M1190.5 88V89M1191.5 87V88M1192.5 87V88M1193.5 86V87M1194.5 86V87M1195.5 85V86M1196.5 85V86M1197.5 84V85M1198.5 83V84M1199.5 82V83M1200.5 81V82M1201.5 81V82M1202.5 80V81M1203.5 80V81M1204.5 79V80M1205.5 79V80M1206.5 79V80M1207.5 79V80M1208.5 80V81M1209.5 80V81M1210.5 81V82M1211.5 82V83M1212.5 82V83M1213.5 83V84M1214.5 83V84M1215.5 83V84M1216.5 82V83M1217.5 81V82M1218.5 80V81M1219.5 79V80M1220.5 78V79M1221.5 77V78M1222.5 77V78M1223.5 76V77M1224.5 75V76M1225.5 75V76M1226.5 74V75M1227.5 74V75M1228.5 73V74M1229.5 73V74M1230.5 72V73M1231.5 72V73M1232.5 72V73M1233.5 72V73M1234.5 72V73M1235.5 72V73M1236.5 73V74M1237.5 74V75M1238.5 74V75M1239.5 75V76M1240.5 76V77M1241.5 76V77M1242.5 77V78M1243.5 77V78M1244.5 77V78M1245.5 77V78M1246.5 78V79M1247.5 78V79M1248.5 78V79M1249.5 77V78M1250.5 77V78M1251.5 77V78M1252.5 77V78M1253.5 77V78M1254.5 77V78M1255.5 77V78M1256.5 76V77M1257.5 75V76M1258.5 75V76M1259.5 73V75M1260.5 72V73M1261.5 71V72M1262.5 70V71M1263.5 69V70M1264.5 68V69M1265.5 67V68M1266.5 67V68" stroke="#ff9900" stroke-width="1" fill="none"/><path d="M2.5 531V25.5H1595.5V531" fill="none" stroke="#000" stroke-width="1"/><rect x="2" y="530" width="1594" height="1" fill="#000"/><path d="M2.5 625V532.5H1595.5V625" fill="none" stroke="#000" stroke-width="1"/><rect x="2" y="624" width="1594" height="1" fill="#000"/><path d="M2.5 719V626.5H1595.5V719" fill="none" stroke="#000" stroke-width="1"/><rect x="2" y="718" width="1594" height="1" fill="#000"/><rect x="3" y="38" width="1592" height="2" fill="#ff0000"/><rect x="2" y="36" width="6" height="6" fill="#ff0000"/><rect x="4" y="38" width="2" height="2" fill="#ffffff"/><rect x="1589" y="36" width="6" height="6" fill="#ff0000"/><rect x="1591" y="38" width="2" height="2" fill="#ffffff"/><rect x="3" y="65" width="1592" height="2" fill="#ff0000"/><rect x="2" y="63" width="6" height="6" fill="#ff0000"/><rect x="4" y="65" width="2" height="2" fill="#ffffff"/><rect x="1589" y="63" width="6" height="6" fill="#ff0000"/><rect x="1591" y="65" width="2" height="2" fill="#ffffff"/><rect x="3" y="92" width="1592" height="2" fill="#00ff00"/><rect x="2" y="90" width="6" height="6" fill="#00ff00"/><rect x="4" y="92" width="2" height="2" fill="#ffffff"/><rect x="1589" y="90" width="6" height="6" fill="#00ff00"/><rect x="1591" y="92" width="2" height="2" fill="#ffffff"/><rect x="3" y="119" width="1592" height="2" fill="#0000ff"/><rect x="2" y="117" width="6" height="6" fill="#0000ff"/><rect x="4" y="119" width="2" height="2" fill="#ffffff"/><rect x="1589" y="117" width="6" height="6" fill="#0000ff"/><rect x="1591" y="119" width="2" height="2" fill="#ffffff"/><rect x="3" y="145" width="1592" height="2" fill="#0000ff"/><path d="M3.5 588V589M4.5 587V588M5.5 587V588M6.5 587V588M7.5 587V588M8.5 587V588M9.5 588V589M10.5 588V589M11.5 589V590M12.5 589V590M13.5 588V589M14.5 588V589M15.5 588V589M16.5 587V588M17.5 586V587M18.5 585V586M19.5 585V586M20.5 586V587M21.5 587V588M22.5 588V589M23.5 588V589M24.5 589V590M25.5 589V590M26.5 590V591M27.5 590V591M28.5 590V591M29.5 589V590M30.5 589V590M31.5 589V590M32.5 587V589M33.5 586V587M34.5 585V586M35.5 584V585M36.5 585V586M37.5 585V586M38.5 586V587M39.5 586V587M40.5 587V588M41.5 588V589M42.5 588V589M43.5 589V590M44.5 589V590M45.5 589V590M46.5 590V591M47.5 590V591M48.5 590V591M49.5 590V591M50.5 591V592M51.5 591V592M52.5 591V592M53.5 591V592M54.5 591V592M55.5 591V592M56.5 591V592M57.5 591V592M58.5 592V593M59.5 591V593M60.5 588V591M61.5 586V588M62.5 584V586M63.5 582V584M64.5 580V582M65.5 578V580M66.5 577V578M67.5 576V577M68.5 575V576M69.5 574V575M70.5 573V574M71.5 572V573M72.5 571V572M73.5 570V571M74.5 569V570M75.5 568V569M76.5 568V569M77.5 568V569M78.5 569V570M79.5 569V570M80.5 568V569M81.5 567V568M82.5 567V568M83.5 566V567M84.5 566V567M85.5 566V567M86.5 567V568M87.5 568V569M88.5 568V569M89.5 569V570M90.5 569V570M91.5 570V571M92.5 569V570M93.5 568V569M94.5 568V569M95.5 567V568M96.5 567V568M97.5 566V567M98.5 566V567M99.5 566V567M100.5 566V567M101.5 566V567M102.5 566V567M103.5 567V568M104.5 568V569M105.5 569V570M106.5 569V570M107.5 570V571M108.5 571V572M109.5 571V572M110.5 572V573M111.5 572V573M112.5 573V574M113.5 574V575M114.5 575V576M115.5 576V578M116.5 578V580M117.5 580V582M118.5 582V583M119.5 583V584M120.5 584V585M121.5 585V586M122.5 586V587M123.5 587V588M124.5 588V589M125.5 588V589M126.5 589V590M127.5 589V590M128.5 588V589M129.5 588V589M130.5 587V588M131.5 587V588M132.5 586V587M133.5 585V586M134.5 584V585M135.5 583V584M136.5 584V586M137.5 586V587M138.5 587V589M139.5 589V590M140.5 588V589M141.5 588V589M142.5 588V589M143.5 588V589M144.5 587V588M145.5 587V588M146.5 586V587M147.5 586V587M148.5 586V587M149.5 586V587M150.5 586V587M151.5 586V587M152.5 586V587M153.5 587V588M154.5 588V589M155.5 589V590M156.5 590V591M157.5 591V593M158.5 593V595M159.5 595V596M160.5 595V596M161.5 595V596M162.5 595V596M163.5 592V595M164.5 590V592M165.5 588V590M166.5 586V588M167.5 584V586M168.5 583V584M169.5 582V583M170.5 582V583M171.5 581V582M172.5 581V582M173.5 580V581M174.5 580V581M175.5 580V581M176.5 581V582M177.5 582V583M178.5 583V584M179.5 584V585M180.5 585V586M181.5 586V587M182.5 586V587M183.5 587V588M184.5 587V588M185.5 586V587M186.5 586V587M187.5 585V587M188.5 583V585M189.5 582V583M190.5 580V582M191.5 578V580M192.5 577V578M193.5 576V577M194.5 574V576M195.5 573V574M196.5 573V574M197.5 573V574M198.5 573V574M199.5 574V575M200.5 575V577M201.5 577V578M202.5 578V579M203.5 578V579M204.5 579V580M205.5 580V581M206.5 580V581M207.5 581V582M208.5 581V582M209.5 581V582M210.5 582V583M211.5 579V582M212.5 577V579M213.5 574V577M214.5 572V574M215.5 571V572M216.5 570V571M217.5 569V570M218.5 569V570M219.5 568V569M220.5 568V569M221.5 567V568M222.5 567V568M223.5 567V568M224.5 566V567M225.5 566V567M226.5 566V567M227.5 566V567M228.5 566V567M229.5 566V567M230.5 566V567M231.5 566V567M232.5 567V568M233.5 567V568M234.5 568V569M235.5 569V571M236.5 571V573M237.5 573V574M238.5 574V575M239.5 575V576M240.5 575V576M241.5 575V576M242.5 574V575M243.5 574V575M244.5 575V576M245.5 575V576M246.5 575V576M247.5 576V577M248.5 575V576M249.5 574V575M250.5 573V574M251.5 572V573M252.5 571V572M253.5 570V571M254.5 569V570M255.5 569V570M256.5 568V569M257.5 568V569M258.5 568V569M259.5 568V569M260.5 567V568M261.5 566V567M262.5 565V566M263.5 565V566M264.5 564V565M265.5 563V564M266.5 563V564M267.5 562V563M268.5 562V563M269.5 563V564M270.5 563V564M271.5 564V565M272.5 564V565M273.5 564V565M274.5 565V566M275.5 565V566M276.5 566V567M277.5 566V567M278.5 567V568M279.5 567V568M280.5 567V568M281.5 568V569M282.5 568V569M283.5 568V569M284.5 568V569M285.5 569V570M286.5 569V570M287.5 569V571M288.5 571V572M289.5 572V574M290.5 574V576M291.5 576V577M292.5 576V577M293.5 576V577M294.5 576V577M295.5 577V578M296.5 577V578M297.5 578V579M298.5 578V579M299.5 578V579M300.5 579V580M301.5 579V580M302.5 579V580M303.5 580V581M304.5 581V582M305.5 581V582M306.5 582V583M307.5 583V585M308.5 585V588M309.5 588V590M310.5 590V592M311.5 591V593M312.5 589V591M313.5 587V589M314.5 585V587M315.5 584V585M316.5 583V584M317.5 583V584M318.5 583V584M319.5 583V584M320.5 583V584M321.5 583V584M322.5 583V584M323.5 583V584M324.5 582V583M325.5 582V583M326.5 581V582M327.5 581V582M328.5 582V583M329.5 583V584M330.5 584V585M331.5 585V586M332.5 585V586M333.5 585V586M334.5 586V587M335.5 586V587M336.5 586V587M337.5 587V588M338.5 587V588M339.5 587V588M340.5 588V589M341.5 588V589M342.5 588V589M343.5 589V590M344.5 589V590M345.5 590V591M346.5 590V591M347.5 591V592M348.5 590V591M349.5 589V590M350.5 588V589M351.5 587V588M352.5 587V588M353.5 587V588M354.5 587V588M355.5 588V589M356.5 589V590M357.5 589V590M358.5 590V591M359.5 591V592M360.5 591V592M361.5 591V592M362.5 591V592M363.5 591V592M364.5 591V592M365.5 591V592M366.5 590V592M367.5 587V590M368.5 584V587M369.5 580V584M370.5 578V580M371.5 576V578M372.5 575V576M373.5 574V575M374.5 573V574M375.5 572V573M376.5 571V572M377.5 570V571M378.5 569V570M379.5 569V571M380.5 571V572M381.5 572V574M382.5 574V576M383.5 576V577M384.5 575V576M385.5 575V576M386.5 575V576M387.5 574V575M388.5 574V575M389.5 574V575M390.5 573V574M391.5 573V574M392.5 573V574M393.5 573V574M394.5 574V575M395.5 575V576M396.5 576V577M397.5 577V579M398.5 579V580M399.5 579V581M400.5 577V579M401.5 575V577M402.5 573V575M403.5 571V573M404.5 569V571M405.5 567V569M406.5 566V567M407.5 565V566M408.5 566V567M409.5 567V568M410.5 568V569M411.5 569V570M412.5 570V571M413.5 570V571M414.5 570V571M415.5 571V572M416.5 570V571M417.5 569V570M418.5 568V569M419.5 567V569M420.5 569V571M421.5 571V572M422.5 572V574M423.5 574V575M424.5 574V575M425.5 574V575M426.5 574V575M427.5 574V575M428.5 573V574M429.5 573V574M430.5 572V573M431.5 572V573M432.5 571V572M433.5 570V571M434.5 569V570M435.5 568V569M436.5 568V569M437.5 568V569M438.5 569V570M439.5 569V570M440.5 568V569M441.5 568V569M442.5 567V568M443.5 567V568M444.5 566V567M445.5 566V567M446.5 565V566M447.5 565V566M448.5 565V566M449.5 566V567M450.5 566V567M451.5 567V568M452.5 566V567M453.5 565V566M454.5 565V566M455.5 564V565M456.5 563V564M457.5 561V563M458.5 560V561M459.5 559V560M460.5 559V560M461.5 560V561M462.5 560V561M463.5 561V562M464.5 560V561M465.5 560V561M466.5 559V560M467.5 559V560M468.5 558V559M469.5 557V558M470.5 557V558M471.5 556V557M472.5 556V557M473.5 557V558M474.5 558V559M475.5 559V560M476.5 559V560M477.5 560V561M478.5 561V562M479.5 562V564M480.5 564V567M481.5 567V569M482.5 569V572M483.5 572V573M484.5 572V573M485.5 572V573M486.5 572V573M487.5 572V573M488.5 573V574M489.5 574V576M490.5 576V577M491.5 577V579M492.5 579V581M493.5 581V583M494.5 583V585M495.5 585V586M496.5 586V587M497.5 586V587M498.5 587V588M499.5 588V589M500.5 588V589M501.5 588V589M502.5 588V589M503.5 586V588M504.5 584V586M505.5 582V584M506.5 580V582M507.5 579V580M508.5 579V580M509.5 579V580M510.5 579V580M511.5 579V580M512.5 579V580M513.5 579V580M514.5 579V580M515.5 579V580M516.5 579V580M517.5 579V580M518.5 579V580M519.5 580V581M520.5 580V581M521.5 579V580M522.5 579V580M523.5 579V580M524.5 579V580M525.5 580V581M526.5 580V581M527.5 581V582M528.5 581V582M529.5 582V583M530.5 583V584M531.5 584V585M532.5 584V585M533.5 584V585M534.5 584V585M535.5 584V585M536.5 584V585M537.5 585V586M538.5 585V586M539.5 586V587M540.5 586V587M541.5 586V587M542.5 587V588M543.5 587V588M544.5 588V589M545.5 589V590M546.5 590V591M547.5 591V592M548.5 590V591M549.5 589V590M550.5 588V589M551.5 588V589M552.5 589V590M553.5 590V591M554.5 591V592M555.5 592V593M556.5 592V593M557.5 592V593M558.5 592V593M559.5 592V594M560.5 594V596M561.5 596V598M562.5 598V600M563.5 600V601M564.5 600V601M565.5 600V601M566.5 600V601M567.5 601V602M568.5 601V602M569.5 601V602M570.5 602V603M571.5 602V603M572.5 603V604M573.5 603V604M574.5 604V605M575.5 604V605M576.5 605V606M577.5 605V606M578.5 605V606M579.5 606V607M580.5 605V606M581.5 605V606M582.5 605V606M583.5 605V606M584.5 605V606M585.5 605V606M586.5 605V606M587.5 603V605M588.5 601V603M589.5 598V601M590.5 596V598M591.5 595V596M592.5 594V595M593.5 593V594M594.5 592V593M595.5 591V592M596.5 591V592M597.5 591V592M598.5 592V593M599.5 592V593M600.5 593V595M601.5 595V596M602.5 596V598M603.5 598V599M604.5 598V599M605.5 598V599M606.5 599V600M607.5 599V600M608.5 599V600M609.5 598V599M610.5 598V599M611.5 596V599M612.5 594V596M613.5 592V594M614.5 590V592M615.5 588V590M616.5 587V588M617.5 585V587M618.5 584V585M619.5 583V584M620.5 583V584M621.5 584V585M622.5 584V585M623.5 585V586M624.5 585V586M625.5 586V587M626.5 586V587M627.5 587V588M628.5 587V588M629.5 587V588M630.5 588V589M631.5 588V589M632.5 587V588M633.5 587V588M634.5 587V588M635.5 587V588M636.5 588V589M637.5 589V590M638.5 589V590M639.5 590V591M640.5 591V592M641.5 591V592M642.5 592V593M643.5 593V594M644.5 594V596M645.5 596V597M646.5 597V599M647.5 599V600M648.5 598V599M649.5 598V599M650.5 597V598M651.5 597V598M652.5 597V598M653.5 597V598M654.5 597V598M655.5 597V598M656.5 597V598M657.5 598V599M658.5 598V599M659.5 599V600M660.5 599V600M661.5 599V600M662.5 600V601M663.5 600V601M664.5 601V603M665.5 603V604M666.5 604V605M667.5 604V606M668.5 603V604M669.5 601V603M670.5 600V601M671.5 599V601M672.5 601V603M673.5 603V605M674.5 605V606M675.5 604V607M676.5 601V604M677.5 598V601M678.5 596V598M679.5 595V596M680.5 595V596M681.5 595V596M682.5 595V596M683.5 592V595M684.5 588V592M685.5 585V588M686.5 582V585M687.5 581V582M688.5 581V582M689.5 581V582M690.5 581V582M691.5 581V582M692.5 581V582M693.5 582V583M694.5 582V583M695.5 582V583M696.5 582V583M697.5 581V582M698.5 580V581M699.5 580V581M700.5 579V580M701.5 579V580M702.5 579V580M703.5 579V580M704.5 578V579M705.5 578V579M706.5 577V578M707.5 578V582M708.5 582V586M709.5 586V590M710.5 590V592M711.5 592V593M712.5 591V592M713.5 589V591M714.5 588V589M715.5 589V592M716.5 592V594M717.5 594V597M718.5 597V599M719.5 599V600M720.5 600V601M721.5 601V602M722.5 602V603M723.5 603V604M724.5 603V604M725.5 603V604M726.5 603V604M727.5 603V604M728.5 603V604M729.5 603V604M730.5 604V605M731.5 604V605M732.5 604V605M733.5 605V606M734.5 606V607M735.5 607V608M736.5 607V608M737.5 608V609M738.5 609V610M739.5 610V611M740.5 609V610M741.5 609V610M742.5 608V609M743.5 608V609M744.5 608V609M745.5 608V609M746.5 608V609M747.5 608V609M748.5 608V609M749.5 608V609M750.5 608V609M751.5 608V609M752.5 608V609M753.5 608V609M754.5 608V609M755.5 607V610M756.5 603V607M757.5 599V603M758.5 596V599M759.5 595V596M760.5 594V595M761.5 594V595M762.5 593V594M763.5 592V593M764.5 591V592M765.5 589V591M766.5 588V589M767.5 587V588M768.5 586V587M769.5 585V586M770.5 584V585M771.5 583V584M772.5 582V583M773.5 581V582M774.5 580V581M775.5 579V580M776.5 579V580M777.5 579V580M778.5 580V581M779.5 580V581M780.5 581V582M781.5 581V582M782.5 581V582M783.5 582V583M784.5 582V583M785.5 582V583M786.5 583V584M787.5 583V584M788.5 584V585M789.5 584V585M790.5 585V586M791.5 586V587M792.5 586V587M793.5 587V588M794.5 587V588M795.5 587V588M796.5 588V589M797.5 588V589M798.5 588V589M799.5 587V589M800.5 586V587M801.5 584V586M802.5 582V584M803.5 581V582M804.5 579V581M805.5 578V579M806.5 577V578M807.5 576V577M808.5 575V576M809.5 574V575M810.5 574V575M811.5 573V574M812.5 573V574M813.5 572V573M814.5 571V572M815.5 570V571M816.5 569V570M817.5 569V570M818.5 569V570M819.5 569V570M820.5 569V570M821.5 568V569M822.5 568V569M823.5 568V569M824.5 568V569M825.5 567V568M826.5 567V568M827.5 567V568M828.5 566V567M829.5 566V567M830.5 565V566M831.5 565V567M832.5 567V568M833.5 568V570M834.5 570V572M835.5 572V573M836.5 572V573M837.5 573V574M838.5 573V574M839.5 574V575M840.5 573V574M841.5 572V573M842.5 572V573M843.5 571V572M844.5 571V572M845.5 571V572M846.5 571V572M847.5 571V572M848.5 570V571M849.5 570V571M850.5 569V570M851.5 569V571M852.5 571V573M853.5 573V575M854.5 575V577M855.5 577V578M856.5 576V577M857.5 576V577M858.5 575V576M859.5 575V576M860.5 574V575M861.5 573V574M862.5 572V573M863.5 571V572M864.5 571V572M865.5 571V572M866.5 572V573M867.5 572V573M868.5 572V573M869.5 572V573M870.5 572V573M871.5 572V573M872.5 570V572M873.5 569V570M874.5 568V569M875.5 567V568M876.5 566V567M877.5 566V567M878.5 565V566M879.5 565V566M880.5 564V565M881.5 564V565M882.5 563V564M883.5 563V564M884.5 563V564M885.5 563V564M886.5 564V565M887.5 565V567M888.5 567V569M889.5 569V571M890.5 571V573M891.5 573V574M892.5 573V574M893.5 573V574M894.5 574V575M895.5 574V575M896.5 574V575M897.5 574V575M898.5 574V575M899.5 574V575M900.5 573V574M901.5 572V573M902.5 572V573M903.5 571V572M904.5 572V573M905.5 573V574M906.5 574V575M907.5 574V576M908.5 573V574M909.5 571V573M910.5 570V571M911.5 569V570M912.5 568V569M913.5 568V569M914.5 567V568M915.5 567V568M916.5 567V568M917.5 567V568M918.5 567V568M919.5 568V569M920.5 569V570M921.5 570V572M922.5 572V573M923.5 573V574M924.5 572V573M925.5 572V573M926.5 571V572M927.5 571V572M928.5 572V573M929.5 573V574M930.5 574V575M931.5 575V576M932.5 576V577M933.5 576V577M934.5 577V578M935.5 578V579M936.5 578V579M937.5 578V579M938.5 579V580M939.5 579V580M940.5 579V580M941.5 578V579M942.5 578V579M943.5 578V579M944.5 576V578M945.5 574V576M946.5 572V574M947.5 571V572M948.5 570V571M949.5 569V570M950.5 568V569M951.5 568V569M952.5 567V568M953.5 567V568M954.5 566V567M955.5 566V567M956.5 567V568M957.5 568V569M958.5 569V570M959.5 570V571M960.5 571V572M961.5 572V573M962.5 572V573M963.5 573V574M964.5 573V574M965.5 573V574M966.5 572V573M967.5 572V573M968.5 572V573M969.5 571V572M970.5 571V572M971.5 571V572M972.5 569V571M973.5 568V569M974.5 566V568M975.5 565V566M976.5 566V567M977.5 567V568M978.5 568V570M979.5 570V571M980.5 569V570M981.5 568V569M982.5 567V568M983.5 566V567M984.5 566V567M985.5 566V567M986.5 567V568M987.5 568V569M988.5 568V569M989.5 568V569M990.5 567V568M991.5 567V568M992.5 565V567M993.5 564V565M994.5 562V564M995.5 561V562M996.5 560V561M997.5 559V560M998.5 558V559M999.5 558V559M1000.5 557V558M1001.5 556V557M1002.5 556V557M1003.5 555V556M1004.5 555V556M1005.5 555V556M1006.5 555V556M1007.5 555V556M1008.5 555V556M1009.5 554V555M1010.5 554V555M1011.5 554V555M1012.5 554V555M1013.5 555V556M1014.5 555V556M1015.5 556V557M1016.5 556V557M1017.5 556V557M1018.5 555V556M1019.5 555V556M1020.5 555V556M1021.5 556V557M1022.5 556V557M1023.5 557V558M1024.5 556V557M1025.5 556V557M1026.5 556V557M1027.5 557V560M1028.5 560V563M1029.5 563V566M1030.5 566V568M1031.5 568V569M1032.5 569V570M1033.5 570V571M1034.5 570V571M1035.5 571V572M1036.5 571V572M1037.5 571V572M1038.5 572V573M1039.5 572V573M1040.5 572V573M1041.5 571V572M1042.5 571V572M1043.5 571V572M1044.5 570V571M1045.5 570V571M1046.5 569V570M1047.5 569V570M1048.5 569V570M1049.5 568V569M1050.5 568V569M1051.5 568V569M1052.5 569V571M1053.5 571V572M1054.5 572V573M1055.5 573V574M1056.5 573V574M1057.5 573V574M1058.5 573V574M1059.5 573V574M1060.5 573V574M1061.5 573V574M1062.5 573V574M1063.5 573V574M1064.5 572V573M1065.5 571V572M1066.5 570V571M1067.5 569V570M1068.5 568V569M1069.5 567V568M1070.5 566V567M1071.5 567V568M1072.5 568V570M1073.5 570V572M1074.5 572V574M1075.5 574V575M1076.5 574V575M1077.5 574V575M1078.5 574V575M1079.5 574V575M1080.5 574V575M1081.5 574V575M1082.5 575V576M1083.5 575V576M1084.5 575V576M1085.5 575V576M1086.5 575V576M1087.5 575V576M1088.5 575V576M1089.5 575V576M1090.5 576V577M1091.5 576V577M1092.5 575V576M1093.5 574V575M1094.5 573V574M1095.5 572V573M1096.5 571V572M1097.5 570V571M1098.5 570V571M1099.5 570V571M1100.5 570V571M1101.5 570V571M1102.5 570V571M1103.5 569V570M1104.5 569V570M1105.5 569V570M1106.5 568V569M1107.5 568V569M1108.5 568V569M1109.5 568V569M1110.5 568V569M1111.5 568V569M1112.5 567V568M1113.5 566V567M1114.5 565V566M1115.5 565V566M1116.5 565V566M1117.5 565V566M1118.5 566V567M1119.5 566V567M1120.5 566V567M1121.5 566V567M1122.5 566V567M1123.5 566V567M1124.5 566V567M1125.5 567V568M1126.5 567V568M1127.5 568V569M1128.5 568V569M1129.5 568V569M1130.5 568V569M1131.5 568V569M1132.5 568V569M1133.5 569V570M1134.5 569V570M1135.5 570V571M1136.5 569V570M1137.5 568V569M1138.5 567V568M1139.5 566V567M1140.5 566V567M1141.5 567V568M1142.5 567V568M1143.5 568V569M1144.5 567V568M1145.5 567V568M1146.5 566V567M1147.5 565V566M1148.5 565V566M1149.5 564V565M1150.5 564V565M1151.5 564V565M1152.5 565V566M1153.5 565V566M1154.5 566V567M1155.5 567V568M1156.5 567V568M1157.5 566V567M1158.5 566V567M1159.5 566V567M1160.5 565V566M1161.5 565V566M1162.5 565V566M1163.5 564V566M1164.5 561V564M1165.5 559V561M1166.5 557V559M1167.5 556V557M1168.5 555V556M1169.5 555V556M1170.5 554V555M1171.5 554V555M1172.5 554V555M1173.5 555V556M1174.5 555V556M1175.5 556V558M1176.5 558V559M1177.5 559V561M1178.5 561V563M1179.5 563V564M1180.5 564V565M1181.5 563V564M1182.5 563V564M1183.5 563V564M1184.5 562V563M1185.5 562V563M1186.5 561V562M1187.5 560V561M1188.5 559V560M1189.5 559V560M1190.5 558V559M1191.5 558V559M1192.5 558V559M1193.5 558V559M1194.5 558V559M1195.5 558V559M1196.5 559V560M1197.5 560V561M1198.5 561V563M1199.5 563V564M1200.5 563V564M1201.5 562V563M1202.5 562V563M1203.5 562V563M1204.5 563V564M1205.5 563V564M1206.5 563V564M1207.5 564V565M1208.5 565V567M1209.5 567V569M1210.5 569V571M1211.5 571V572M1212.5 569V571M1213.5 568V569M1214.5 566V568M1215.5 565V566M1216.5 564V565M1217.5 563V564M1218.5 562V563M1219.5 561V562M1220.5 561V562M1221.5 560V561M1222.5 560V561M1223.5 560V562M1224.5 562V564M1225.5 564V567M1226.5 567V569M1227.5 569V570M1228.5 570V571M1229.5 570V571M1230.5 571V572M1231.5 572V573M1232.5 571V572M1233.5 571V572M1234.5 570V571M1235.5 570V571M1236.5 570V571M1237.5 570V571M1238.5 570V571M1239.5 571V572M1240.5 570V571M1241.5 570V571M1242.5 570V571M1243.5 570V571M1244.5 570V571M1245.5 570V571M1246.5 570V571M1247.5 571V572M1248.5 570V571M1249.5 570V571M1250.5 570V571M1251.5 570V571M1252.5 569V570M1253.5 569V570M1254.5 569V570M1255.5 569V570M1256.5 568V569M1257.5 567V568M1258.5 566V567M1259.5 565V566M1260.5 564V565M1261.5 563V564M1262.5 563V564M1263.5 563V564M1264.5 562V563M1265.5 562V563M1266.5 562V563M1267.5 562V563" stroke="#1e90ff" stroke-width="1" fill="none"/><path d="M3.5 663V673M7.5 663V673M11.5 663V672M15.5 663V672M19.5 663V672M23.5 663V672M27.5 663V671M31.5 663V671M35.5 663V671M39.5 663V671M43.5 663V671M47.5 663V670M51.5 663V670M55.5 663V670M59.5 663V670M63.5 663V669M67.5 663V668M71.5 663V667M75.5 663V665M79.5 663v1M83.5 663v1M87.5 663v1M91.5 662V664M95.5 661V664M99.5 661V664M103.5 660V664M107.5 660V664M111.5 660V664M115.5 660V664M119.5 660V664M123.5 661V664M127.5 662V664M131.5 663v1M135.5 663v1M139.5 663v1M143.5 663V665M147.5 663V665M151.5 663V665M155.5 663V666M159.5 663V666M163.5 663V667M167.5 663V667M171.5 663V667M175.5 663V667M179.5 663V667M183.5 663V667M187.5 663V667M191.5 663V667M195.5 663V666M199.5 663V665M203.5 663v1M207.5 663v1M211.5 663v1M215.5 663v1M219.5 662V664M223.5 662V664M227.5 662V664M231.5 661V664M235.5 661V664M239.5 660V664M243.5 660V664M247.5 659V664M251.5 659V664M255.5 659V664M259.5 659V664M263.5 659V664M267.5 658V664M271.5 657V664M275.5 657V664M279.5 657V664M283.5 657V664M287.5 657V664M291.5 658V664M295.5 658V664M299.5 659V664M303.5 660V664M307.5 661V664M311.5 662V664M315.5 663v1M319.5 663v1M323.5 663v1M327.5 663v1M331.5 663v1M335.5 663v1M339.5 663v1M343.5 663V665M347.5 663V665M351.5 663V665M355.5 663V666M359.5 663V666M363.5 663V666M367.5 663V666M371.5 663V666M375.5 663V666M379.5 663V665M383.5 663V665M387.5 663V665M391.5 663v1M395.5 663v1M399.5 663v1M403.5 663v1M407.5 662V664M411.5 662V664M415.5 661V664M419.5 661V664M423.5 661V664M427.5 661V664M431.5 660V664M435.5 660V664M439.5 659V664M443.5 659V664M447.5 658V664M451.5 658V664M455.5 658V664M459.5 657V664M463.5 656V664M467.5 655V664M471.5 655V664M475.5 654V664M479.5 654V664M483.5 654V664M487.5 655V664M491.5 656V664M495.5 659V664M499.5 661V664M503.5 662V664M507.5 663v1M511.5 663v1M515.5 663v1M519.5 663v1M523.5 663v1M527.5 663v1M531.5 663v1M535.5 663v1M539.5 663V665M543.5 663V665M547.5 663V665M551.5 663V666M555.5 663V667M559.5 663V668M563.5 663V669M567.5 663V670M571.5 663V671M575.5 663V672M579.5 663V673M583.5 663V674M587.5 663V674M591.5 663V674M595.5 663V674M599.5 663V673M603.5 663V673M607.5 663V674M611.5 663V674M615.5 663V674M619.5 663V672M623.5 663V671M627.5 663V670M631.5 663V670M635.5 663V670M639.5 663V669M643.5 663V670M647.5 663V670M651.5 663V671M655.5 663V672M659.5 663V672M663.5 663V673M667.5 663V674M671.5 663V674M675.5 663V676M679.5 663V676M683.5 663V676M687.5 663V675M691.5 663V673M695.5 663V672M699.5 663V671M703.5 663V669M707.5 663V669M711.5 663V671M715.5 663V672M719.5 663V676M723.5 663V681M727.5 663V687M731.5 663V689M735.5 663V694M739.5 663V701M743.5 663V705M747.5 663V708M751.5 663V710M755.5 663V712M759.5 663V711M763.5 663V709M767.5 663V705M771.5 663V700M775.5 663V694M779.5 663V690M783.5 663V687M787.5 663V684M791.5 663V683M795.5 663V683M799.5 663V682M803.5 663V681M807.5 663V677M811.5 663V674M815.5 663V669M819.5 663v1M823.5 662V664M827.5 660V664M831.5 657V664M835.5 655V664M839.5 655V664M843.5 654V664M847.5 654V664M851.5 653V664M855.5 654V664M859.5 655V664M863.5 655V664M867.5 653V664M871.5 653V664M875.5 652V664M879.5 650V664M883.5 648V664M887.5 647V664M891.5 649V664M895.5 650V664M899.5 651V664M903.5 651V664M907.5 652V664M911.5 651V664M915.5 650V664M919.5 650V664M923.5 650V664M927.5 651V664M931.5 652V664M935.5 654V664M939.5 656V664M943.5 657V664M947.5 656V664M951.5 655V664M955.5 653V664M959.5 653V664M963.5 654V664M967.5 654V664M971.5 654V664M975.5 652V664M979.5 652V664M983.5 651V664M987.5 651V664M991.5 650V664M995.5 647V664M999.5 644V664M1003.5 640V664M1007.5 638V664M1011.5 635V664M1015.5 634V664M1019.5 633V664M1023.5 633V664M1027.5 633V664M1031.5 635V664M1035.5 637V664M1039.5 640V664M1043.5 642V664M1047.5 643V664M1051.5 644V664M1055.5 646V664M1059.5 648V664M1063.5 649V664M1067.5 650V664M1071.5 649V664M1075.5 650V664M1079.5 652V664M1083.5 653V664M1087.5 654V664M1091.5 655V664M1095.5 655V664M1099.5 655V664M1103.5 655V664M1107.5 655V664M1111.5 655V664M1115.5 654V664M1119.5 654V664M1123.5 654V664M1127.5 654V664M1131.5 653V664M1135.5 654V664M1139.5 655V664M1143.5 655V664M1147.5 655V664M1151.5 654V664M1155.5 655V664M1159.5 655V664M1163.5 655V664M1167.5 653V664M1171.5 651V664M1175.5 650V664M1179.5 650V664M1183.5 650V664M1187.5 650V664M1191.5 649V664M1195.5 649V664M1199.5 650V664M1203.5 650V664M1207.5 650V664M1211.5 651V664M1215.5 651V664M1219.5 650V664M1223.5 650V664M1227.5 651V664M1231.5 652V664M1235.5 652V664M1239.5 654V664M1243.5 654V664M1247.5 654V664M1251.5 655V664M1255.5 655V664M1259.5 655V664M1263.5 654V664M1267.5 654V664" stroke="#c0c0c0" stroke-width="1" fill="none"/><path d="M3.5 674V675M4.5 674V675M5.5 674V675M9.5 674V675M10.5 674V675M11.5 674V675M15.5 673V674M16.5 673V674M17.5 673V674M21.5 673V674M22.5 673V674M23.5 673V674M27.5 672V673M28.5 672V673M29.5 672V673M33.5 672V673M34.5 672V673M35.5 672V673M39.5 671V672M40.5 671V672M41.5 671V672M45.5 671V672M46.5 671V672M47.5 671V672M51.5 670V671M52.5 670V671M53.5 670V671M57.5 670V671M58.5 670V671M59.5 670V671M63.5 670V671M64.5 670V671M65.5 670V671M69.5 669V670M70.5 669V670M71.5 669V670M75.5 669V670M76.5 669V670M77.5 668V669M81.5 667V668M82.5 667V668M83.5 666V667M87.5 665V666M88.5 665V666M89.5 665V666M93.5 664V665M94.5 664V665M95.5 664V665M99.5 662V663M100.5 662V663M101.5 662V663M105.5 661V662M106.5 661V662M107.5 660V661M111.5 660V661M112.5 660V661M113.5 659V660M117.5 659V660M118.5 659V660M119.5 659V660M123.5 659V660M124.5 659V660M125.5 659V660M129.5 660V661M130.5 660V661M131.5 660V661M135.5 660V661M136.5 661V662M137.5 661V662M141.5 662V663M142.5 662V663M143.5 663V664M147.5 663V664M148.5 664V665M149.5 664V665M153.5 664V665M154.5 664V665M155.5 664V665M159.5 665V666M160.5 665V666M161.5 665V666M165.5 666V667M166.5 666V667M167.5 666V667M171.5 666V667M172.5 667V668M173.5 667V668M177.5 667V668M178.5 667V668M179.5 667V668M183.5 667V668M184.5 667V668M185.5 667V668M189.5 667V668M190.5 667V668M191.5 667V668M195.5 666V667M196.5 666V667M197.5 666V667M201.5 666V667M202.5 666V667M203.5 666V667M207.5 666V667M208.5 666V667M209.5 665V666M213.5 665V666M214.5 665V666M215.5 665V666M219.5 664V665M220.5 664V665M221.5 664V665M225.5 663V664M226.5 663V664M227.5 662V663M231.5 662V663M232.5 661V662M233.5 661V662M237.5 661V662M238.5 661V662M239.5 660V661M243.5 660V661M244.5 660V661M245.5 660V661M249.5 659V660M250.5 659V660M251.5 659V660M255.5 659V660M256.5 659V660M257.5 659V660M261.5 659V660M262.5 659V660M263.5 658V659M267.5 658V659M268.5 658V659M269.5 658V659M273.5 658V659M274.5 658V659M275.5 657V658M279.5 657V658M280.5 657V658M281.5 657V658M285.5 657V658M286.5 657V658M287.5 657V658M291.5 657V658M292.5 657V658M293.5 657V658M297.5 657V658M298.5 657V658M299.5 657V658M303.5 657V658M304.5 657V658M305.5 657V658M309.5 658V659M310.5 658V659M311.5 658V659M315.5 659V660M316.5 659V660M317.5 659V660M321.5 660V661M322.5 660V661M323.5 661V662M327.5 661V662M328.5 661V662M329.5 661V662M333.5 662V663M334.5 663V664M335.5 663V664M339.5 663V664M340.5 663V664M341.5 663V664M345.5 664V665M346.5 664V665M347.5 664V665M351.5 665V666M352.5 665V666M353.5 665V666M357.5 665V666M358.5 665V666M359.5 665V666M363.5 666V667M364.5 666V667M365.5 666V667M369.5 666V667M370.5 666V667M371.5 666V667M375.5 666V667M376.5 666V667M377.5 666V667M381.5 666V667M382.5 666V667M383.5 666V667M387.5 665V666M388.5 665V666M389.5 665V666M393.5 665V666M394.5 665V666M395.5 665V666M399.5 664V665M400.5 664V665M401.5 664V665M405.5 663V664M406.5 663V664M407.5 663V664M411.5 662V663M412.5 662V663M413.5 662V663M417.5 661V662M418.5 661V662M419.5 661V662M423.5 661V662M424.5 661V662M425.5 660V661M429.5 660V661M430.5 660V661M431.5 660V661M435.5 660V661M436.5 660V661M437.5 660V661M441.5 659V660M442.5 659V660M443.5 659V660M447.5 659V660M448.5 659V660M449.5 658V659M453.5 658V659M454.5 658V659M455.5 658V659M459.5 657V658M460.5 657V658M461.5 657V658M465.5 657V658M466.5 656V657M467.5 656V657M471.5 656V657M472.5 656V657M473.5 656V657M477.5 655V656M478.5 655V656M479.5 655V656M483.5 654V655M484.5 654V655M485.5 654V655M489.5 654V655M490.5 654V655M491.5 654V655M495.5 654V655M496.5 654V655M497.5 654V655M501.5 655V656M502.5 656V657M503.5 656V657M507.5 656V657M508.5 656V657M509.5 656V657M513.5 658V659M514.5 658V659M515.5 658V659M519.5 660V661M520.5 660V661M521.5 660V661M525.5 661V662M526.5 661V662M527.5 661V662M531.5 662V663M532.5 662V663M533.5 662V663M537.5 662V663M538.5 662V663M539.5 663V664M543.5 663V664M544.5 663V664M545.5 663V664M549.5 664V665M550.5 664V665M551.5 664V665M555.5 664V665M556.5 664V665M557.5 664V665M561.5 665V666M562.5 665V666M563.5 665V666M567.5 666V667M568.5 666V667M569.5 666V667M573.5 668V669M574.5 668V669M575.5 668V669M579.5 669V670M580.5 669V670M581.5 669V670M585.5 671V672M586.5 671V672M587.5 671V672M591.5 672V673M592.5 672V673M593.5 672V673M597.5 673V674M598.5 673V674M599.5 673V674M603.5 673V674M604.5 673V674M605.5 673V674M609.5 673V674M610.5 674V675M611.5 674V675M615.5 673V674M616.5 673V674M617.5 673V674M621.5 673V674M622.5 673V674M623.5 673V674M627.5 673V674M628.5 673V674M629.5 672V673M633.5 672V673M634.5 672V673M635.5 672V673M639.5 672V673M640.5 672V673M641.5 671V672M645.5 671V672M646.5 671V672M647.5 671V672M651.5 671V672M652.5 671V672M653.5 671V672M657.5 671V672M658.5 671V672M659.5 671V672M663.5 671V672M664.5 671V672M665.5 672V673M669.5 672V673M670.5 672V673M671.5 672V673M675.5 673V674M676.5 673V674M677.5 673V674M681.5 674V675M682.5 674V675M683.5 674V675M687.5 675V676M688.5 675V676M689.5 675V676M693.5 675V676M694.5 675V676M695.5 675V676M699.5 675V676M700.5 675V676M701.5 675V676M705.5 674V675M706.5 674V675M707.5 674V675M711.5 673V674M712.5 673V674M713.5 673V674M717.5 673V674M718.5 673V674M719.5 673V674M723.5 673V674M724.5 674V675M725.5 674V675M729.5 676V677M730.5 676V677M731.5 677V678M735.5 680V681M736.5 680V681M737.5 681V682M741.5 685V686M742.5 686V687M743.5 687V688M747.5 691V692M748.5 692V693M749.5 693V694M753.5 697V698M754.5 698V699M755.5 699V700M759.5 703V704M760.5 704V705M761.5 704V705M765.5 706V707M766.5 706V707M767.5 706V707M771.5 707V708M772.5 707V708M773.5 706V707M777.5 705V706M778.5 705V706M779.5 705V706M783.5 701V702M784.5 701V702M785.5 700V701M789.5 697V698M790.5 697V698M791.5 696V697M795.5 693V694M796.5 692V693M797.5 691V692M801.5 688V689M802.5 687V688M803.5 687V688M807.5 685V686M808.5 684V685M809.5 684V685M813.5 681V682M814.5 681V682M815.5 680V681M819.5 677V678M820.5 676V677M821.5 676V677M825.5 673V674M826.5 673V674M827.5 672V673M831.5 669V670M832.5 668V669M833.5 667V668M837.5 664V665M838.5 663V664M839.5 663V664M843.5 660V661M844.5 660V661M845.5 659V660M849.5 657V658M850.5 656V657M851.5 656V657M855.5 655V656M856.5 655V656M857.5 654V655M861.5 654V655M862.5 654V655M863.5 654V655M867.5 653V654M868.5 653V654M869.5 653V654M873.5 653V654M874.5 653V654M875.5 653V654M879.5 652V653M880.5 652V653M881.5 652V653M885.5 651V652M886.5 651V652M887.5 650V651M891.5 650V651M892.5 650V651M893.5 650V651M897.5 649V650M898.5 649V650M899.5 649V650M903.5 649V650M904.5 649V650M905.5 649V650M909.5 649V650M910.5 649V650M911.5 649V650M915.5 649V650M916.5 649V650M917.5 649V650M921.5 650V651M922.5 650V651M923.5 650V651M927.5 650V651M928.5 650V651M929.5 650V651M933.5 651V652M934.5 651V652M935.5 651V652M939.5 651V652M940.5 651V652M941.5 651V652M945.5 652V653M946.5 652V653M947.5 652V653M951.5 653V654M952.5 653V654M953.5 653V654M957.5 653V654M958.5 653V654M959.5 653V654M963.5 654V655M964.5 654V655M965.5 654V655M969.5 654V655M970.5 654V655M971.5 654V655M975.5 653V654M976.5 653V654M977.5 653V654M981.5 652V653M982.5 652V653M983.5 652V653M987.5 652V653M988.5 651V652M989.5 651V652M993.5 651V652M994.5 651V652M995.5 651V652M999.5 649V650M1000.5 649V650M1001.5 648V649M1005.5 647V648M1006.5 646V647M1007.5 646V647M1011.5 643V644M1012.5 643V644M1013.5 642V643M1017.5 640V641M1018.5 640V641M1019.5 639V640M1023.5 638V639M1024.5 638V639M1025.5 637V638M1029.5 635V636M1030.5 635V636M1031.5 635V636M1035.5 634V635M1036.5 634V635M1037.5 634V635M1041.5 635V636M1042.5 635V636M1043.5 635V636M1047.5 636V637M1048.5 636V637M1049.5 636V637M1053.5 637V638M1054.5 638V639M1055.5 638V639M1059.5 640V641M1060.5 641V642M1061.5 641V642M1065.5 643V644M1066.5 643V644M1067.5 643V644M1071.5 645V646M1072.5 645V646M1073.5 645V646M1077.5 647V648M1078.5 647V648M1079.5 647V648M1083.5 648V649M1084.5 648V649M1085.5 648V649M1089.5 649V650M1090.5 650V651M1091.5 650V651M1095.5 651V652M1096.5 651V652M1097.5 651V652M1101.5 652V653M1102.5 652V653M1103.5 652V653M1107.5 653V654M1108.5 653V654M1109.5 653V654M1113.5 654V655M1114.5 654V655M1115.5 654V655M1119.5 654V655M1120.5 654V655M1121.5 654V655M1125.5 654V655M1126.5 654V655M1127.5 653V654M1131.5 653V654M1132.5 653V654M1133.5 653V654M1137.5 653V654M1138.5 653V654M1139.5 653V654M1143.5 653V654M1144.5 653V654M1145.5 653V654M1149.5 653V654M1150.5 653V654M1151.5 653V654M1155.5 653V654M1156.5 653V654M1157.5 653V654M1161.5 654V655M1162.5 654V655M1163.5 654V655M1167.5 653V654M1168.5 653V654M1169.5 653V654M1173.5 653V654M1174.5 653V654M1175.5 653V654M1179.5 652V653M1180.5 652V653M1181.5 652V653M1185.5 651V652M1186.5 651V652M1187.5 651V652M1191.5 651V652M1192.5 650V651M1193.5 650V651M1197.5 649V650M1198.5 649V650M1199.5 649V650M1203.5 649V650M1204.5 649V650M1205.5 649V650M1209.5 649V650M1210.5 649V650M1211.5 649V650M1215.5 649V650M1216.5 649V650M1217.5 649V650M1221.5 649V650M1222.5 649V650M1223.5 649V650M1227.5 649V650M1228.5 649V650M1229.5 649V650M1233.5 649V650M1234.5 650V651M1235.5 650V651M1239.5 650V651M1240.5 650V651M1241.5 650V651M1245.5 650V651M1246.5 651V652M1247.5 651V652M1251.5 651V652M1252.5 651V652M1253.5 651V652M1257.5 652V653M1258.5 652V653M1259.5 652V653M1263.5 652V653M1264.5 653V654M1265.5 653V654" stroke="#ff0000" stroke-width="1" fill="none"/><rect x="1596" y="32" width="2" height="1" fill="#000"/><rect x="1596" y="98" width="2" height="1" fill="#000"/><rect x="1596" y="131" width="2" height="1" fill="#000"/><rect x="1596" y="164" width="2" height="1" fill="#000"/><rect x="1596" y="197" width="2" height="1" fill="#000"/><rect x="1596" y="230" width="2" height="1" fill="#000"/><rect x="1596" y="263" width="2" height="1" fill="#000"/><rect x="1596" y="296" width="2" height="1" fill="#000"/><rect x="1596" y="329" width="2" height="1" fill="#000"/><rect x="1596" y="362" width="2" height="1" fill="#000"/><rect x="1596" y="395" width="2" height="1" fill="#000"/><rect x="1596" y="428" width="2" height="1" fill="#000"/><rect x="1596" y="461" width="2" height="1" fill="#000"/><rect x="1596" y="494" width="2" height="1" fill="#000"/><rect x="1596" y="527" width="2" height="1" fill="#000"/><rect x="1596" y="560" width="1" height="1" fill="#000"/><rect x="1596" y="596" width="1" height="1" fill="#000"/><rect x="1596" y="663" width="1" height="1" fill="#000"/><rect x="1596" y="718" width="1" height="1" fill="#000"/><rect x="3" y="719" width="1" height="3" fill="#000"/><rect x="67" y="719" width="1" height="3" fill="#000"/><rect x="131" y="719" width="1" height="3" fill="#000"/><rect x="195" y="719" width="1" height="3" fill="#000"/><rect x="259" y="719" width="1" height="3" fill="#000"/><rect x="323" y="719" width="1" height="3" fill="#000"/><rect x="387" y="719" width="1" height="3" fill="#000"/><rect x="451" y="719" width="1" height="3" fill="#000"/><rect x="515" y="719" width="1" height="3" fill="#000"/><rect x="579" y="719" width="1" height="3" fill="#000"/><rect x="643" y="719" width="1" height="3" fill="#000"/><rect x="707" y="719" width="1" height="3" fill="#000"/><rect x="771" y="719" width="1" height="3" fill="#000"/><rect x="835" y="719" width="1" height="3" fill="#000"/><rect x="899" y="719" width="1" height="3" fill="#000"/><rect x="963" y="719" width="1" height="3" fill="#000"/><rect x="1027" y="719" width="1" height="3" fill="#000"/><rect x="1091" y="719" width="1" height="3" fill="#000"/><rect x="1155" y="719" width="1" height="3" fill="#000"/><rect x="1219" y="719" width="1" height="3" fill="#000"/><path d="M1271 26h9l-4.5 5.2z" fill="#c0c0c0" shape-rendering="auto"/></svg><svg style="position:absolute;left:6px;top:32px" width="8" height="5" viewBox="0 0 8 5"><path d="M0 0h7.4l-3.7 4.3z" fill="#000"/></svg><div class="t" id="title" style="left:19px;top:28.1px;font-size:10.4px;line-height:11px;transform:scaleX(.9423);transform-origin:0 0">AUDUSD,Daily</div><div class="t" id="title2" style="left:89.5px;top:28.1px;font-size:10.4px;line-height:11px;transform:scaleX(0.8867);transform-origin:0 0">0.72329 0.72589 0.72261 0.72469</div><div class="t" id="rsi" style="left:6.8px;top:536.1px;font-size:10.4px;line-height:11px;transform:scaleX(0.8876);transform-origin:0 0">RSI(14) 68.7688</div><div class="t" id="macd" style="left:6.8px;top:630.1px;font-size:10.4px;line-height:11px;transform:scaleX(0.9027);transform-origin:0 0">MACD(12,26,9) 0.004456 0.004354</div><div class="t ax" style="left:1601px;top:27.06px">0.73295</div><div class="t ax" style="left:1601px;top:93.06px">0.70845</div><div class="t ax" style="left:1601px;top:126.06px">0.69585</div><div class="t ax" style="left:1601px;top:159.06px">0.68360</div><div class="t ax" style="left:1601px;top:192.06px">0.67135</div><div class="t ax" style="left:1601px;top:225.06px">0.65875</div><div class="t ax" style="left:1601px;top:258.06px">0.64650</div><div class="t ax" style="left:1601px;top:291.06px">0.63390</div><div class="t ax" style="left:1601px;top:324.06px">0.62165</div><div class="t ax" style="left:1601px;top:357.06px">0.60940</div><div class="t ax" style="left:1601px;top:390.06px">0.59680</div><div class="t ax" style="left:1601px;top:423.06px">0.58455</div><div class="t ax" style="left:1601px;top:456.06px">0.57195</div><div class="t ax" style="left:1601px;top:489.06px">0.55970</div><div class="t ax" style="left:1601px;top:522.06px">0.54745</div><div class="t ax" style="left:1598.5px;top:533.76px;transform:scaleX(0.8858)">100</div><div class="t ax" style="left:1598.5px;top:554.56px;transform:scaleX(0.8858)">70</div><div class="t ax" style="left:1598.5px;top:590.66px;transform:scaleX(0.8858)">30</div><div class="t ax" style="left:1598.5px;top:611.56px;transform:scaleX(0.8858)">0</div><div class="t ax" style="left:1598.5px;top:627.46px;transform:scaleX(0.8858)">0.015741</div><div class="t ax" style="left:1598.5px;top:657.66px;transform:scaleX(0.8858)">0.00</div><div class="t ax" style="left:1598.5px;top:706.06px;transform:scaleX(0.8858)">-0.024412</div><div class="lbl" style="top:33px;height:11px;background:#ff0000"><span>0.73033</span></div><div class="lbl" style="top:50px;height:10px;background:#000"><span>0.72469</span></div><div class="lbl" style="top:60px;height:11px;background:#ff0000"><span>0.72022</span></div><div class="lbl" style="top:87px;height:11px;background:#00ff00"><span>0.71010</span></div><div class="lbl" style="top:114px;height:11px;background:#0000ff"><span>0.69999</span></div><div class="lbl" style="top:140px;height:11px;background:#0000ff"><span>0.69025</span></div><div class="t" style="left:2.3px;top:722.1px;font-size:10.4px;line-height:11px;transform:scaleX(0.9187);transform-origin:0 0">16 Aug 2019</div><div class="t" style="left:66.3px;top:722.1px;font-size:10.4px;line-height:11px;transform:scaleX(0.8866);transform-origin:0 0">4 Sep 2019</div><div class="t" style="left:130.3px;top:722.1px;font-size:10.4px;line-height:11px;transform:scaleX(0.8866);transform-origin:0 0">23 Sep 2019</div><div class="t" style="left:194.3px;top:722.1px;font-size:10.4px;line-height:11px;transform:scaleX(0.9187);transform-origin:0 0">11 Oct 2019</div><div class="t" style="left:258.3px;top:722.1px;font-size:10.4px;line-height:11px;transform:scaleX(0.9004);transform-origin:0 0">30 Oct 2019</div><div class="t" style="left:322.3px;top:722.1px;font-size:10.4px;line-height:11px;transform:scaleX(0.9187);transform-origin:0 0">18 Nov 2019</div><div class="t" style="left:386.3px;top:722.1px;font-size:10.4px;line-height:11px;transform:scaleX(0.8866);transform-origin:0 0">6 Dec 2019</div><div class="t" style="left:450.3px;top:722.1px;font-size:10.4px;line-height:11px;transform:scaleX(0.8820);transform-origin:0 0">25 Dec 2019</div><div class="t" style="left:514.3px;top:722.1px;font-size:10.4px;line-height:11px;transform:scaleX(0.8728);transform-origin:0 0">13 Jan 2020</div><div class="t" style="left:578.3px;top:722.1px;font-size:10.4px;line-height:11px;transform:scaleX(0.8710);transform-origin:0 0">31 Jan 2020</div><div class="t" style="left:642.3px;top:722.1px;font-size:10.4px;line-height:11px;transform:scaleX(0.8912);transform-origin:0 0">19 Feb 2020</div><div class="t" style="left:706.3px;top:722.1px;font-size:10.4px;line-height:11px;transform:scaleX(0.8912);transform-origin:0 0">9 Mar 2020</div><div class="t" style="left:770.3px;top:722.1px;font-size:10.4px;line-height:11px;transform:scaleX(0.8820);transform-origin:0 0">27 Mar 2020</div><div class="t" style="left:834.3px;top:722.1px;font-size:10.4px;line-height:11px;transform:scaleX(0.9004);transform-origin:0 0">15 Apr 2020</div><div class="t" style="left:898.3px;top:722.1px;font-size:10.4px;line-height:11px;transform:scaleX(0.9279);transform-origin:0 0">4 May 2020</div><div class="t" style="left:962.3px;top:722.1px;font-size:10.4px;line-height:11px;transform:scaleX(0.9187);transform-origin:0 0">22 May 2020</div><div class="t" style="left:1026.3px;top:722.1px;font-size:10.4px;line-height:11px;transform:scaleX(0.8746);transform-origin:0 0">10 Jun 2020</div><div class="t" style="left:1090.3px;top:722.1px;font-size:10.4px;line-height:11px;transform:scaleX(0.8746);transform-origin:0 0">29 Jun 2020</div><div class="t" style="left:1154.3px;top:722.1px;font-size:10.4px;line-height:11px;transform:scaleX(0.8728);transform-origin:0 0">17 Jul 2020</div><div class="t" style="left:1218.3px;top:722.1px;font-size:10.4px;line-height:11px;transform:scaleX(0.9096);transform-origin:0 0">5 Aug 2020</div><div style="position:absolute;left:0;top:739px;width:1636px;height:1px;background:#e3e3e3"></div><div style="position:absolute;left:0;top:741px;width:1636px;height:1px;background:#000"></div><div style="position:absolute;left:0;top:742px;width:1636px;height:20px;background:#f0f0f0"></div><div style="position:absolute;left:208px;top:741px;width:102px;height:18px;background:#fff;border:1px solid #000;border-top:none"></div><div class="tab" style="left:16.5px;letter-spacing:-0.124px">EURUSD,Daily</div><div class="tab" style="left:118px;letter-spacing:-0.016px">USDCHF,Daily</div><div class="tab" style="left:219.4px;letter-spacing:0.076px;color:#000">AUDUSD,Daily</div><div class="tab" style="left:323.5px;letter-spacing:-0.032px">USDCAD,Daily</div><div class="tab" style="left:426px;letter-spacing:0.138px">USDCNH,Daily</div><div class="tab" style="left:532px;letter-spacing:-0.141px">EURUSD,Daily</div><div class="tab" style="left:636px;letter-spacing:-0.207px">GBPUSD,H4</div><div class="tab" style="left:727px;letter-spacing:-0.054px">XAUUSD,H1</div><div class="tab" style="left:819.3px;letter-spacing:-0.029px">HK50,H1</div><div class="tab" style="left:891px;letter-spacing:0.141px">UK100,H1</div><div class="tab" style="left:971.3px;letter-spacing:0.128px">UK100,H1</div><div class="tab" style="left:1051px;letter-spacing:-0.216px">GER30,H1</div><div class="tab" style="left:1130.4px;letter-spacing:-0.279px">FRA40,H1</div><div class="tab" style="left:1206px;letter-spacing:0.061px">USOil,H4</div><div class="tab" style="left:1278px;letter-spacing:-0.187px">USDJPY,H1</div><div class="tab" style="left:1362px;letter-spacing:0.117px">DJ30,Daily</div><div class="tab" style="left:1442.5px;letter-spacing:0.206px">CHINA300,H1</div><div class="tab" style="left:1542px;letter-spacing:0.111px">USOil,H1</div><div class="sep" style="left:108px"></div><div class="sep" style="left:416px"></div><div class="sep" style="left:520px"></div><div class="sep" style="left:624px"></div><div class="sep" style="left:716px"></div><div class="sep" style="left:808px"></div><div class="sep" style="left:880px"></div><div class="sep" style="left:960px"></div><div class="sep" style="left:1040px"></div><div class="sep" style="left:1120px"></div><div class="sep" style="left:1196px"></div><div class="sep" style="left:1268px"></div><div class="sep" style="left:1352px"></div><div class="sep" style="left:1432px"></div><div class="sep" style="left:1532px"></div><div class="sep" style="left:1604px"></div><svg style="position:absolute;left:1608px;top:745px" width="28" height="12" viewBox="0 0 28 12"><path d="M6 2v7l-3.5-3.5z" fill="#a0a0a0"/><path d="M22 2v7l3.5-3.5z" fill="#000"/></svg></body></html>
